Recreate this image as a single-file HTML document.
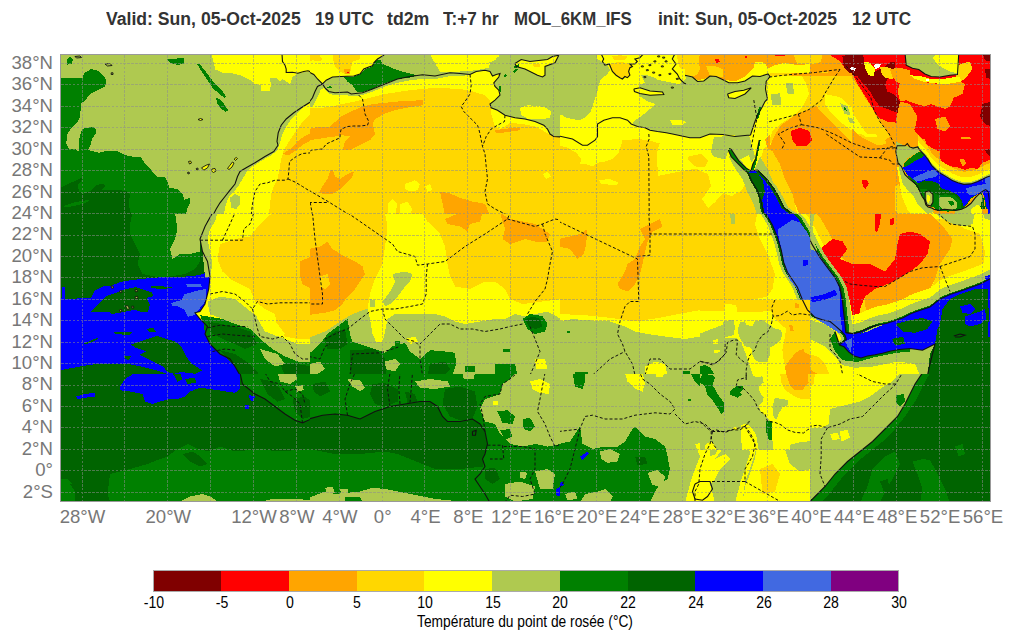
<!DOCTYPE html>
<html><head><meta charset="utf-8"><style>
html,body{margin:0;padding:0;background:#fff;width:1011px;height:641px;overflow:hidden;position:relative;font-family:"Liberation Sans",sans-serif}
.t{position:absolute;font-weight:bold;font-size:18px;color:#333;white-space:nowrap;line-height:20px;top:9px}
.la{position:absolute;font-size:18.6px;color:#777;white-space:nowrap;line-height:20px}
.lat{right:958px;text-align:right}
.lon{top:506.5px;transform:translateX(-50%)}
.cb{position:absolute;font-size:16px;color:#000;white-space:nowrap;line-height:18px;top:594px;transform:translateX(-50%) scaleX(0.88)}
svg{position:absolute;left:0;top:0}
</style></head><body>
<svg width="1011" height="641" viewBox="0 0 1011 641" shape-rendering="crispEdges">
<defs><clipPath id="c0"><rect x="60" y="54" width="250" height="160"/></clipPath><clipPath id="c1"><rect x="310" y="54" width="250" height="160"/></clipPath><clipPath id="c2"><rect x="560" y="54" width="250" height="160"/></clipPath><clipPath id="c3"><rect x="810" y="54" width="181" height="160"/></clipPath><clipPath id="c4"><rect x="60" y="214" width="250" height="160"/></clipPath><clipPath id="c5"><rect x="310" y="214" width="250" height="160"/></clipPath><clipPath id="c6"><rect x="560" y="214" width="250" height="160"/></clipPath><clipPath id="c7"><rect x="810" y="214" width="181" height="160"/></clipPath><clipPath id="c8"><rect x="60" y="374" width="250" height="128"/></clipPath><clipPath id="c9"><rect x="310" y="374" width="250" height="128"/></clipPath><clipPath id="c10"><rect x="560" y="374" width="250" height="128"/></clipPath><clipPath id="c11"><rect x="810" y="374" width="181" height="128"/></clipPath></defs>
<style>.cl{fill:none;stroke:#111;stroke-width:1.1;shape-rendering:auto}.is{stroke:#111;stroke-width:0.9;shape-rendering:auto}.bd{fill:none;stroke:#111;stroke-width:1;stroke-dasharray:3 2;shape-rendering:auto}</style>
<g clip-path="url(#c0)">
<rect x="60" y="54" width="250" height="160" fill="#AFC950"/>
<polygon fill="#FFFF00" points="210.0,52.8 211.5,54.0 213.0,60.5 215.5,69.5 222.0,72.5 232.0,73.2 242.5,76.0 251.5,81.0 254.0,84.2 260.5,85.0 261.0,90.5 270.0,90.5 270.8,85.0 270.0,77.8 277.0,78.5 280.5,81.5 282.2,79.0 287.5,82.2 290.0,85.0 292.5,77.0 297.8,73.2 311.2,71.5 311.2,52.8"/>
<polygon fill="#FFFF00" points="311.2,101.5 303.8,107.0 297.5,112.8 291.2,119.5 286.2,126.5 282.5,134.0 280.0,142.8 277.5,150.2 271.2,155.2 260.0,161.5 252.5,166.5 246.2,172.8 242.5,179.0 238.8,185.2 235.0,190.2 230.0,195.2 227.0,201.5 225.0,207.8 223.8,215.2 311.2,215.2"/>
<polygon fill="#AFC950" points="230.0,197.8 235.0,194.0 240.0,196.5 240.0,204.0 236.2,209.0 231.2,207.8"/>
<polygon fill="#FFD700" points="311.2,114.0 303.8,120.2 297.5,129.0 292.5,136.5 287.5,144.0 283.8,150.2 281.2,159.0 279.5,169.0 277.5,179.0 273.8,186.5 271.2,194.0 270.0,204.0 268.8,215.2 311.2,215.2"/>
<polygon fill="#FFA500" points="282.5,154.0 290.0,149.0 297.5,141.5 303.8,136.5 311.2,133.0 311.2,140.2 303.8,144.0 296.2,150.2 288.8,155.2"/>
<polygon fill="#008000" points="67.0,59.5 70.0,57.0 73.0,59.0 72.0,63.5 67.5,64.5"/>
<polygon fill="#008000" points="167.5,59.5 183.8,57.8 184.2,63.5 177.5,65.0 170.0,63.0"/>
<polygon fill="#008000" points="197.0,64.0 200.0,64.5 207.5,74.0 211.2,79.0 216.2,85.2 222.5,91.5 226.2,96.5 224.5,98.0 218.8,93.5 212.5,87.8 207.5,80.2 202.5,72.8"/>
<polygon fill="#008000" points="216.2,97.8 220.0,99.5 225.0,105.2 228.0,110.2 225.5,112.0 220.0,107.8 217.0,102.8"/>
<polygon fill="#008000" points="58.8,77.8 65.0,77.8 82.5,77.8 84.5,72.8 91.2,69.0 98.8,71.0 105.0,77.0 106.5,82.8 104.5,87.0 97.5,90.2 91.2,93.5 87.0,97.8 84.5,101.5 81.2,102.8 80.0,116.5 77.0,122.8 71.2,127.8 67.5,134.0 66.2,142.8 68.8,149.0 75.0,152.2 58.8,152.2"/>
<polygon fill="#008000" points="78.8,151.5 79.5,137.8 82.0,129.0 88.0,127.8 92.5,126.5 96.2,129.0 95.5,134.0 92.0,139.0 90.5,145.2 87.5,151.0"/>
<polygon fill="#008000" points="58.8,150.2 75.0,149.0 78.0,151.2 84.0,149.8 90.0,150.5 99.0,152.8 108.0,150.5 117.0,151.2 124.5,155.0 135.0,157.0 140.8,157.2 143.8,161.8 149.8,168.5 157.2,176.8 164.8,176.8 167.8,182.0 169.2,188.0 176.8,188.8 182.8,194.0 184.2,200.0 189.5,197.8 190.2,202.8 187.2,209.0 185.8,215.2 58.8,215.2"/>
<polygon fill="#006400" points="58.8,188.8 67.5,184.2 81.0,178.2 82.5,179.0 78.0,185.0 78.8,191.0 82.5,194.0 90.0,191.0 96.0,185.0 103.5,183.5 105.0,186.5 102.0,189.5 114.0,189.5 126.0,191.0 129.8,194.0 129.0,205.8 131.2,215.2 58.8,215.2"/>
<polygon fill="#008000" points="63.0,206.0 72.0,203.0 82.5,200.8 90.0,200.0 85.5,203.0 75.0,205.8 66.0,207.5"/>
<polygon class="is" fill="#FFFF00" points="188.5,161.5 190.5,161.0 191.5,163.0 189.5,164.0"/>
<polygon class="is" fill="#FFFF00" points="201.5,167.8 206.2,165.2 209.5,164.0 207.5,167.8 203.8,170.2"/>
<polygon class="is" fill="#FFFF00" points="212.0,169.0 215.0,168.5 216.0,171.0 213.5,172.5 211.5,171.0"/>
<polygon class="is" fill="#FFFF00" points="227.5,168.5 230.0,165.2 232.5,162.0 234.0,163.0 232.0,167.0 229.0,169.5"/>
<polygon class="is" fill="#FFFF00" points="234.2,159.0 236.2,157.5 237.5,158.5 235.5,160.5"/>
<polygon class="is" fill="#AFC950" points="196.2,168.5 197.8,168.0 198.2,169.5 196.8,170.0"/>
<polygon class="is" fill="#AFC950" points="187.5,172.5 189.0,172.0 189.5,173.5 188.0,174.0"/>
<polygon class="is" fill="#FFFF00" points="198.0,119.5 200.5,118.5 203.0,119.5 200.5,120.5"/>
<polygon class="is" fill="#AFC950" points="105.0,64.0 110.0,63.5 112.0,65.5 107.5,66.0"/>
<polygon class="is" fill="#AFC950" points="111.2,72.8 113.0,72.8 113.0,74.5 111.2,74.5"/>
<polygon class="is" fill="#AFC950" points="75.0,56.5 80.0,56.0 81.5,57.5 76.5,58.0"/>
<polyline class="cl" points="311.2,101.5 301.2,107.8 293.8,112.8 286.2,119.0 281.2,125.2 278.2,132.8 277.0,141.5 278.0,145.2 273.8,151.5 265.0,156.5 255.0,162.8 246.2,167.8 240.0,171.5 237.5,176.5 235.0,184.0 230.0,190.2 225.0,196.5 220.0,202.8 216.2,209.0 213.0,215.2"/>
<polyline class="cl" points="282.0,54.0 282.5,61.5 285.0,65.2 286.2,69.0 286.2,72.5 292.5,72.2 297.8,73.2 303.8,71.5 308.0,70.8 311.2,72.0"/>
<polyline class="bd" points="311.2,152.8 302.5,153.5 296.2,156.5 289.5,161.5 288.8,171.5 288.0,179.0 285.0,180.2 275.0,180.2 267.5,182.8 260.0,184.0 255.0,191.5 252.5,204.0 251.2,215.2"/>
<polyline class="bd" points="288.0,179.0 295.0,182.0 302.5,186.5 311.2,192.0"/>
</g>
<g clip-path="url(#c1)">
<rect x="310" y="54" width="250" height="160" fill="#FFD700"/>
<polygon fill="#FFFF00" points="308.8,52.8 561.2,52.8 561.2,137.8 550.0,134.5 535.0,126.5 522.5,124.0 510.0,122.8 505.0,126.5 500.0,129.0 495.0,126.5 491.2,114.0 490.0,100.2 485.0,95.2 472.5,91.5 460.0,89.0 435.0,87.8 410.0,90.2 385.0,94.0 370.0,97.8 355.0,101.5 342.5,104.0 330.0,107.0 320.0,107.8 308.8,107.8"/>
<polygon fill="#FFD700" points="332.5,52.8 360.0,52.8 360.0,59.0 352.5,61.5 351.2,67.8 350.0,72.8 345.0,74.0 340.0,71.5 335.0,66.5 333.0,59.0"/>
<polygon fill="#FFA500" points="343.8,69.0 350.0,69.5 349.5,74.0 345.0,74.5"/>
<polygon fill="#FF0000" points="347.0,71.5 348.5,71.5 348.5,73.0 347.0,73.0"/>
<polygon fill="#FFD700" points="308.8,52.8 317.5,52.8 322.5,59.0 320.0,61.5 312.5,60.2 308.8,61.5"/>
<polygon fill="#AFC950" points="308.8,73.5 313.8,74.5 317.5,79.0 322.5,84.0 325.0,87.8 321.2,89.0 318.8,94.0 316.2,100.2 312.5,106.5 308.8,107.8"/>
<polygon fill="#AFC950" points="322.5,84.0 326.2,80.2 332.5,77.0 341.2,76.5 353.8,76.0 360.0,74.0 363.8,69.0 368.8,67.0 372.5,65.8 373.8,62.8 377.5,59.0 383.8,55.2 385.0,52.8 430.0,52.8 432.5,59.0 435.0,62.8 450.0,64.0 470.0,65.2 485.0,64.0 495.0,60.2 500.0,54.0 561.2,52.8 561.2,137.8 550.0,134.5 547.5,129.0 543.8,125.2 535.0,121.5 525.0,119.0 515.0,117.8 505.0,115.2 497.5,110.2 491.2,107.8 490.0,104.0 495.0,100.2 500.0,95.2 498.8,90.2 495.0,86.5 493.8,82.8 498.8,77.0 500.0,73.5 496.2,74.5 492.5,76.0 490.0,71.5 485.0,70.2 476.2,71.5 470.0,74.5 460.0,76.5 450.0,76.0 435.0,79.0 422.5,79.0 410.0,80.2 397.5,82.8 385.0,86.5 372.5,91.5 362.5,95.2 351.2,96.5 347.5,95.2 335.0,95.2 328.8,93.5 325.0,89.0"/>
<polygon fill="#FFFF00" points="435.0,52.8 462.5,52.8 465.0,57.8 485.0,60.2 490.0,62.8 488.8,67.8 480.0,69.5 470.0,71.0 460.0,71.5 450.0,72.0 440.0,71.5 436.2,65.2"/>
<polygon fill="#FFFF00" points="477.5,52.8 500.0,52.8 498.8,57.0 485.0,57.0"/>
<polygon fill="#FFFF00" points="520.0,107.8 527.5,105.2 537.5,106.0 546.2,107.8 551.2,111.5 550.0,117.8 540.0,119.5 527.5,118.5 521.2,115.2"/>
<polygon fill="#FFFF00" points="515.0,63.5 521.2,59.5 530.0,61.5 547.5,59.5 552.5,56.5 558.8,55.2 555.0,62.8 545.0,66.5 545.0,75.2 542.5,77.0 537.5,75.2 525.0,69.0 516.2,66.5"/>
<polygon fill="#FFD700" points="532.5,64.0 540.0,64.5 540.0,67.0 533.8,66.5"/>
<polygon fill="#008000" points="343.8,77.0 353.8,76.5 360.0,74.5 365.0,69.0 372.5,66.5 373.8,62.8 378.0,59.5 380.5,59.5 382.5,64.0 397.5,70.2 416.2,75.2 413.8,77.0 397.5,79.0 385.0,83.2 377.5,86.5 370.0,89.5 362.5,92.0 357.5,92.0 355.0,89.0 352.5,85.2 347.5,81.5"/>
<polygon fill="#008000" points="326.2,87.0 331.2,86.0 332.0,87.5 327.0,88.0"/>
<polygon fill="#008000" points="513.8,66.5 518.8,64.0 519.5,66.0 515.0,68.5"/>
<polygon fill="#008000" points="513.0,71.5 516.2,68.5 517.5,69.5 514.5,72.8"/>
<polygon fill="#008000" points="503.8,75.2 506.2,74.0 507.0,76.0 504.5,77.0"/>
<polygon fill="#008000" points="498.8,86.5 501.2,86.0 501.5,91.5 499.5,91.5"/>
<polygon fill="#FFA500" points="308.8,129.0 320.0,126.5 330.0,126.5 341.2,116.5 351.2,111.5 362.5,106.5 372.5,104.0 385.0,102.8 397.5,101.5 410.0,100.8 422.5,100.2 423.0,105.2 410.0,107.0 397.5,109.5 385.0,113.5 376.2,118.5 372.5,122.8 375.0,134.0 370.0,140.2 360.0,145.2 350.0,150.2 342.5,150.2 345.0,141.5 350.0,136.5 342.5,135.2 335.0,136.5 325.0,137.8 317.5,139.0 308.8,140.2"/>
<polygon fill="#FFA500" points="318.8,192.8 322.5,186.5 327.5,179.0 330.0,171.5 332.5,169.5 335.0,176.5 340.0,179.0 347.5,174.0 353.8,171.5 352.5,176.5 345.0,184.0 340.0,189.0 332.5,194.0 325.0,194.0"/>
<polygon fill="#FFA500" points="440.0,191.5 450.0,193.5 460.0,197.8 472.5,201.5 485.0,204.0 490.0,215.2 445.0,215.2"/>
<polygon fill="#FFA500" points="495.0,130.2 507.5,128.5 520.0,127.8 520.0,130.2 507.5,132.0 496.2,133.5"/>
<polygon fill="#FFFF00" points="405.0,184.0 415.0,180.2 420.0,184.0 417.5,190.2 410.0,191.5 405.0,189.0"/>
<polygon fill="#FFFF00" points="387.5,204.0 392.5,199.0 397.5,204.0 395.0,215.2 388.8,215.2"/>
<polygon fill="#FFFF00" points="400.0,204.0 407.5,201.5 412.5,209.0 410.0,215.2 400.0,215.2"/>
<polygon fill="#FFFF00" points="425.0,186.5 430.0,184.0 432.5,190.2 427.5,191.5"/>
<polygon fill="#FFFF00" points="542.5,174.0 547.5,171.5 551.2,176.5 546.2,179.0"/>
<polyline class="cl" points="308.8,72.0 313.8,74.5 317.5,79.0 322.5,84.0 326.2,80.2 332.5,77.0 341.2,76.5 353.8,76.0 360.0,74.0 363.8,69.0 368.8,67.0 372.5,65.8 373.8,62.8 377.5,59.0 383.8,55.2 385.0,52.8"/>
<polyline class="cl" points="308.8,102.8 312.5,97.8 315.0,91.5 317.5,86.5 322.5,84.0 325.0,87.8 328.8,91.5 335.0,92.8 347.5,92.0 351.2,94.0 362.5,92.8 372.5,89.0 385.0,84.0 397.5,79.0 410.0,76.5 422.5,74.8 435.0,76.0 450.0,72.8 460.0,73.5 470.0,74.5 476.2,71.5 485.0,70.2 490.0,71.5 492.5,76.0 496.2,74.5 500.0,73.5 498.8,77.0 493.8,82.8 495.0,86.5 498.8,90.2 500.0,95.2 495.0,100.2 490.0,104.0 491.2,107.8 497.5,110.2 505.0,115.2 515.0,117.8 525.0,119.0 535.0,121.5 543.8,125.2 547.5,129.0 550.0,134.0 553.8,136.5 561.2,137.0"/>
<polyline class="cl" points="515.0,63.5 521.2,59.5 530.0,61.5 547.5,59.5 552.5,56.5 558.8,55.2"/>
<polyline class="cl" points="558.8,55.2 555.0,62.8 545.0,66.5 545.0,75.2 542.5,77.0 537.5,75.2 525.0,69.0 516.2,66.5 515.0,63.5"/>
<polyline class="bd" points="358.8,95.2 362.5,99.0 363.8,106.5 365.0,114.0 368.8,121.5 367.5,125.2 360.0,126.0 353.8,126.0 347.5,126.5 341.2,129.0 340.0,134.0 340.0,137.8 326.2,144.0 322.5,149.0 311.2,150.2 308.8,152.8"/>
<polyline class="bd" points="470.0,74.5 471.2,85.2 470.0,94.0 465.0,101.5 461.2,106.5 463.8,111.5 471.2,119.0 477.5,125.2 478.8,129.0 480.0,134.0 482.5,146.5 485.0,154.0 486.2,166.5 487.5,179.0 485.0,191.5 487.5,204.0 495.0,209.0 507.5,215.2"/>
<polyline class="bd" points="505.0,115.2 504.5,121.5 497.5,125.2 491.2,129.0 486.2,136.5 482.5,146.5"/>
<polyline class="bd" points="308.8,190.2 328.8,202.0 350.0,215.2"/>
<polyline class="bd" points="308.8,202.5 328.8,202.5"/>
<polyline class="bd" points="310.2,202.5 312.5,215.2"/>
</g>
<g clip-path="url(#c2)">
<rect x="560" y="54" width="250" height="160" fill="#AFC950"/>
<polygon fill="#FFFF00" points="558.8,52.8 811.2,52.8 811.2,215.2 558.8,215.2"/>
<polygon fill="#AFC950" points="558.8,52.8 596.2,52.8 597.5,59.0 601.2,61.5 607.5,65.2 610.0,70.2 607.5,74.0 601.2,79.0 598.8,84.0 597.5,91.5 593.8,101.5 592.5,106.5 590.0,112.8 585.0,117.8 578.8,120.2 572.5,119.0 566.2,117.8 562.5,115.2 558.8,114.0"/>
<polygon fill="#FFD700" points="609.3,64.0 612.4,71.5 616.1,75.2 619.9,77.7 622.4,79.0 624.9,76.5 627.4,77.7 629.9,75.2 628.6,71.5 629.9,67.7 632.4,66.5 629.9,64.0 624.9,62.7 619.9,61.5 614.9,62.7"/>
<polygon fill="#FFD700" points="612.4,56.5 619.9,55.2 627.4,56.5 624.9,59.6 618.6,60.2 613.6,59.6"/>
<polygon fill="#FFD700" points="676.6,54.0 686.0,54.0 686.0,69.0 679.8,67.7 677.9,61.5"/>
<polygon fill="#FFD700" points="677.5,52.8 686.2,52.8 686.2,69.0 681.2,69.0 678.8,61.5"/>
<polygon fill="#FFA500" points="685.0,52.8 811.2,52.8 811.2,64.0 797.5,65.2 785.0,62.8 775.0,65.2 767.5,69.0 765.0,64.0 757.5,62.8 752.5,69.0 745.0,76.5 735.0,81.5 722.5,79.5 716.2,76.5 710.0,76.0 703.8,79.0 697.5,80.2 692.5,76.5 685.0,75.2"/>
<polygon fill="#FFD700" points="685.0,52.8 700.0,52.8 698.8,61.5 700.0,69.0 697.5,74.0 692.5,76.5 685.0,75.2"/>
<polygon fill="#FFD700" points="706.2,66.5 715.0,66.0 722.5,69.0 722.5,76.5 716.2,76.5 710.0,76.0"/>
<polygon fill="#FFFF00" points="755.0,61.5 765.0,62.8 767.5,67.8 767.5,74.5 760.0,76.5 752.5,76.0"/>
<polygon fill="#FFD700" points="792.5,52.8 811.2,52.8 811.2,64.0 797.5,64.0"/>
<polygon fill="#FF0000" points="715.0,59.0 718.8,58.5 720.0,62.0 716.2,62.8"/>
<polygon fill="#FF0000" points="772.5,52.8 786.2,52.8 785.0,56.0 775.0,56.0"/>
<polygon fill="#FF0000" points="745.0,56.0 747.0,56.0 747.0,57.5 745.0,57.5"/>
<polygon fill="#AFC950" points="640.0,84.0 647.5,82.8 653.8,79.0 660.0,80.2 666.2,81.5 672.5,82.8 678.8,84.0 686.2,79.0 685.0,75.2 692.5,77.0 697.5,81.5 703.8,81.0 710.0,76.0 716.2,76.5 722.5,79.5 728.8,82.8 737.5,82.8 745.0,81.0 752.5,76.0 760.0,76.5 766.2,74.5 768.0,74.0 770.0,76.5 766.2,81.5 765.5,89.0 767.5,99.0 765.0,101.5 762.5,106.5 757.5,115.2 755.0,121.5 752.5,129.0 750.5,135.2 722.5,134.5 710.0,134.0 700.0,137.8 690.0,137.8 672.5,134.0 666.2,132.8 657.5,131.5 650.0,130.2 645.0,127.8 637.5,126.5 632.5,124.0 635.0,120.2 642.5,115.2 650.0,109.0 655.0,104.0 647.5,101.5 640.0,96.5 637.5,90.2"/>
<polygon fill="#AFC950" points="641.2,75.2 647.5,75.2 657.5,79.0 655.0,83.5 645.0,83.5"/>
<polygon fill="#FFFF00" points="633.8,89.0 640.0,87.8 650.0,91.0 662.5,92.0 663.8,94.5 650.0,95.2 640.0,93.5 634.5,91.5"/>
<polygon fill="#FFFF00" points="727.5,94.0 735.0,91.5 743.8,90.2 751.2,87.8 745.0,94.0 735.0,98.5 728.8,97.8"/>
<polygon fill="#FFFF00" points="615.0,121.5 622.5,120.2 623.8,123.5 617.5,124.5"/>
<polygon fill="#FFFF00" points="670.0,120.2 680.0,119.5 686.2,122.0 682.5,125.2 672.5,125.2"/>
<polygon fill="#FFFF00" points="768.0,74.0 811.2,71.5 811.2,136.5 785.0,136.5 767.5,134.0 767.5,99.0 765.5,89.0 766.2,81.5 770.0,76.5"/>
<polygon fill="#FFD700" points="785.0,91.5 797.5,89.0 811.2,86.5 811.2,116.5 800.0,114.0 790.0,111.5 785.0,104.0"/>
<polygon fill="#FFA500" points="780.0,111.5 795.0,106.5 811.2,101.5 811.2,136.5 785.0,136.5 777.5,131.5 780.0,121.5"/>
<polygon fill="#FF0000" points="797.5,126.5 811.2,124.0 811.2,136.5 800.0,136.5 795.0,131.5"/>
<polygon fill="#AFC950" points="772.5,96.5 777.5,96.0 780.0,100.2 773.8,101.5"/>
<polygon fill="#AFC950" points="773.8,110.2 780.0,110.2 782.5,116.5 775.0,117.8"/>
<polygon fill="#008000" points="756.2,117.8 758.8,107.8 761.2,106.5 760.0,114.0 758.0,119.5"/>
<polygon fill="#FFD700" points="558.8,145.2 567.5,147.8 576.2,152.8 581.2,159.0 580.0,164.0 585.0,164.0 592.5,166.5 597.5,162.8 605.0,161.5 612.5,159.0 618.8,152.8 622.5,140.2 639.0,139.0 649.2,140.5 659.5,143.5 656.8,153.8 658.0,175.8 681.5,171.2 696.2,168.5 708.0,174.2 711.0,186.0 702.0,199.2 708.0,208.0 715.2,202.0 722.8,193.2 731.5,196.2 741.8,190.2 744.8,184.5 750.0,190.2 758.8,215.2 558.8,215.2"/>
<polygon fill="#FFD700" points="687.5,156.8 700.8,153.8 708.0,161.0 705.0,167.0 696.2,167.0 689.0,161.0"/>
<polygon fill="#FFFF00" points="598.8,180.2 610.0,179.0 618.8,182.8 616.2,185.2 601.2,184.0"/>
<polygon fill="#AFC950" points="713.8,137.5 725.5,136.0 749.0,134.8 755.0,156.8 747.5,168.5 740.2,165.5 734.2,161.0 730.0,153.8 728.5,149.2 725.5,159.5 713.8,156.8 711.0,152.2"/>
<polygon fill="#FFFF00" points="740.2,159.5 749.0,155.2 752.0,164.0 747.5,168.5"/>
<polygon fill="#AFC950" points="731.5,152.8 735.8,158.0 741.8,167.0 749.0,171.2 747.5,175.8 752.5,186.5 757.5,199.0 762.5,215.2 757.5,215.2 752.5,201.5 746.2,189.0 742.5,179.0 737.5,171.5 732.5,164.0 729.0,156.5"/>
<polygon fill="#FFA500" points="771.2,134.0 811.2,134.0 811.2,215.2 800.0,215.2 795.0,204.0 787.5,194.0 780.0,181.5 775.0,171.5 770.0,159.0 767.5,149.0 765.0,139.0"/>
<polygon fill="#FFD700" points="765.0,146.5 772.5,151.5 780.0,164.0 785.0,179.0 792.5,194.0 797.5,215.2 785.0,215.2 775.0,194.0 765.0,171.5 761.2,156.5"/>
<polygon fill="#FFFF00" points="761.2,161.5 767.5,171.5 775.0,189.0 780.0,204.0 785.0,215.2 775.0,215.2 765.0,194.0 757.5,174.0"/>
<polygon fill="#FF0000" points="791.2,134.0 811.2,134.0 811.2,146.5 802.5,145.2 795.0,140.2"/>
<polygon fill="#AFC950" points="760.0,156.5 767.5,169.0 775.0,186.5 780.0,204.0 786.2,215.2 775.0,215.2 767.5,199.0 760.0,184.0 753.8,171.5"/>
<polygon fill="#AFC950" points="755.4,170.9 761.9,170.0 769.4,177.4 776.9,186.8 782.5,196.2 788.1,207.4 795.6,213.0 803.1,216.8 806.9,224.2 810.6,233.6 816.2,244.8 821.8,254.2 825.6,260.0 829.3,267.3 826.0,267.3 822.2,260.0 818.5,254.2 812.8,244.8 807.2,233.6 803.5,224.2 799.7,216.8 792.3,213.0 784.8,207.4 779.2,196.2 773.5,186.8 766.1,177.4 758.6,170.0 752.0,170.9"/>
<polygon fill="#AFC950" points="747.0,172.8 750.7,181.2 756.3,190.5 760.1,201.8 761.9,211.1 765.7,218.6 771.3,226.1 775.0,233.6 778.8,244.8 780.7,252.3 782.5,260.0 784.4,267.3 782.1,267.3 780.3,260.0 778.4,252.3 776.5,244.8 772.8,233.6 769.0,226.1 763.4,218.6 759.7,211.1 757.8,201.8 754.1,190.5 748.5,181.2 744.7,172.8"/>
<polygon fill="#006400" points="747.0,172.8 750.7,181.2 756.3,190.5 760.1,201.8 761.9,211.1 765.7,218.6 771.3,226.1 775.0,233.6 778.8,244.8 780.7,252.3 782.5,260.0 784.4,267.3 826.0,267.3 822.2,260.0 818.5,254.2 812.8,244.8 807.2,233.6 803.5,224.2 799.7,216.8 792.3,213.0 784.8,207.4 779.2,196.2 773.5,186.8 766.1,177.4 758.6,170.0 752.0,170.9"/>
<polygon fill="#0000FF" points="748.1,172.8 751.8,181.2 757.4,190.5 761.2,201.8 763.1,211.1 766.8,218.6 772.4,226.1 776.2,233.6 779.9,244.8 781.8,252.3 783.6,260.0 785.5,267.3 824.8,267.3 821.1,260.0 817.3,254.2 811.7,244.8 806.1,233.6 802.4,224.2 798.6,216.8 791.1,213.0 783.6,207.4 778.0,196.2 772.4,186.8 764.9,177.4 757.4,170.0 750.9,170.9"/>
<polygon fill="#006400" points="748.1,172.8 757.4,172.8 763.1,181.2 764.9,192.4 762.1,199.9 764.0,211.1 766.8,220.5 772.4,228.0 776.2,233.6 773.4,233.6 767.7,226.1 763.1,218.6 760.2,207.4 758.4,196.2 753.7,184.9 750.0,177.4"/>
<polygon fill="#006400" points="757.4,170.0 764.9,177.4 772.4,186.8 778.0,196.2 783.6,207.4 791.1,213.0 798.6,216.8 802.4,224.2 806.1,233.6 803.5,233.6 799.7,224.2 796.0,216.8 788.5,213.0 781.0,207.4 775.4,196.2 769.8,186.8 762.3,177.4 754.8,170.0"/>
<polygon fill="#4169E1" points="791.1,228.0 798.6,222.4 806.1,233.6 811.7,244.8 817.3,254.2 819.2,260.0 791.1,260.0 787.4,252.3 791.1,244.8 789.3,237.3"/>
<polygon fill="#008000" points="728.4,150.3 731.2,156.8 738.7,164.3 744.3,170.0 748.1,172.8 750.9,170.9 746.2,168.1 738.7,160.6 731.2,149.4 729.4,148.4"/>
<polygon fill="#008000" points="750.9,170.9 752.8,164.3 755.6,158.7 757.4,149.4 759.3,140.0 760.8,140.0 758.4,151.2 756.5,160.6 754.6,168.1 753.7,170.9"/>
<polygon fill="#FFFF00" points="769.8,73.1 852.3,73.1 852.3,150.0 769.8,150.0"/>
<polygon fill="#FFD700" points="800.0,73.1 852.3,73.1 852.3,150.0 772.3,150.0 769.8,140.1 772.3,130.9 781.5,123.2 793.8,115.5 803.0,106.3 809.2,94.0 806.1,83.2"/>
<polygon fill="#FFA500" points="769.8,146.3 775.4,134.0 781.5,124.7 796.9,114.0 809.2,109.4 821.5,103.2 827.6,109.4 840.0,118.6 852.3,127.8 852.3,150.0 769.8,150.0"/>
<polygon fill="#FFD700" points="815.3,90.9 833.8,84.8 852.3,84.8 852.3,143.2 840.0,130.9 827.6,118.6 818.4,109.4 815.3,100.1"/>
<polygon fill="#FFFF00" points="824.6,94.0 840.0,97.1 852.3,107.8 852.3,130.9 840.0,121.7 830.7,112.4 824.6,103.2"/>
<polygon fill="#AFC950" points="840.0,103.2 847.6,106.3 850.7,115.5 844.6,114.0"/>
<polygon fill="#008000" points="843.6,106.9 846.1,107.8 846.7,110.9 844.3,110.0"/>
<polygon fill="#AFC950" points="847.6,117.1 852.3,118.6 852.3,123.2 849.2,122.3"/>
<polygon fill="#AFC950" points="770.7,94.0 780.0,93.4 781.5,104.8 772.3,104.8"/>
<polygon fill="#AFC950" points="786.1,83.2 793.2,83.2 793.8,94.0 787.0,93.4"/>
<polygon fill="#FF0000" points="790.7,130.9 800.0,127.8 809.2,130.9 812.3,140.1 806.1,146.3 796.9,146.3 792.3,140.1"/>
<polygon fill="#FFA500" points="769.8,73.1 852.3,73.1 852.3,75.5 769.8,75.5"/>
<polygon fill="#FFD700" points="769.8,73.1 790.7,73.1 790.7,75.5 769.8,75.5"/>
<polygon class="is" fill="#FFFF00" points="641.2,66.0 643.2,65.8 643.5,66.8 641.5,67.0"/>
<polygon class="is" fill="#FFFF00" points="646.2,69.8 648.2,69.5 648.5,70.5 646.5,70.8"/>
<polygon class="is" fill="#FFFF00" points="652.5,72.2 654.5,72.0 654.8,73.0 652.8,73.2"/>
<polygon class="is" fill="#FFFF00" points="658.8,74.8 660.8,74.5 661.0,75.5 659.0,75.8"/>
<polygon class="is" fill="#FFFF00" points="643.8,76.5 645.8,76.5 646.0,77.5 644.0,77.8"/>
<polygon class="is" fill="#FFFF00" points="661.2,66.0 663.2,65.8 663.5,66.8 661.5,67.0"/>
<polygon class="is" fill="#FFFF00" points="668.8,73.5 670.8,73.2 671.0,74.2 669.0,74.5"/>
<polygon class="is" fill="#FFFF00" points="671.2,87.2 673.2,87.0 673.5,88.0 671.5,88.2"/>
<polygon class="is" fill="#FFFF00" points="653.8,61.0 655.8,60.8 656.0,61.8 654.0,62.0"/>
<polygon class="is" fill="#FFFF00" points="648.8,64.8 650.8,64.5 651.0,65.5 649.0,65.8"/>
<polygon class="is" fill="#FFFF00" points="665.0,61.0 667.0,60.8 667.2,61.8 665.2,62.0"/>
<polygon class="is" fill="#FFFF00" points="657.5,56.0 659.5,55.8 659.8,56.8 657.8,57.0"/>
<polygon class="is" fill="#FFFF00" points="662.5,57.2 664.5,57.0 664.8,58.0 662.8,58.2"/>
<polygon class="is" fill="#FFFF00" points="676.2,78.5 678.2,78.2 678.5,79.2 676.5,79.5"/>
<polyline class="cl" points="729.4,148.4 731.2,149.4 738.7,160.6 746.2,168.1 750.9,170.9 750.9,170.9 757.4,170.0 764.9,177.4 772.4,186.8 778.0,196.2 783.6,207.4 791.1,213.0 798.6,216.8 802.4,224.2 806.1,233.6 811.7,244.8 817.3,254.2 821.1,260.0 824.8,267.3"/>
<polyline class="cl" points="728.4,150.3 731.2,156.8 738.7,164.3 744.3,170.0 748.1,172.8 748.1,172.8 751.8,181.2 757.4,190.5 761.2,201.8 763.1,211.1 766.8,218.6 772.4,226.1 776.2,233.6 779.9,244.8 781.8,252.3 783.6,260.0 785.5,267.3"/>
<polyline class="cl" points="750.9,170.9 752.8,164.3 755.6,158.7 757.4,149.4 759.3,140.0"/>
<polyline class="cl" points="558.8,136.0 572.5,139.0 582.5,145.2 587.5,145.2 595.0,140.2 597.5,136.5 597.5,124.0 603.8,120.2 612.5,117.8 620.0,117.8 627.5,120.2 631.2,124.0 637.5,126.5 645.0,127.8 650.0,130.2 657.5,131.5 666.2,132.8 672.5,134.0 690.0,137.8 700.0,137.8 710.0,134.0 722.5,134.5 735.0,136.5 747.5,135.2 750.5,135.2"/>
<polyline class="cl" points="685.0,75.2 692.5,77.0 697.5,81.5 703.8,81.0 710.0,76.0 716.2,76.5 722.5,79.5 728.8,82.8 737.5,82.8 745.0,81.0 752.5,76.0 760.0,76.5 766.2,74.5 768.0,74.0 770.0,76.5 766.2,81.5 765.5,89.0 767.5,99.0 765.0,101.5 762.5,106.5 757.5,115.2 755.0,121.5 752.5,129.0 750.5,135.2"/>
<polyline class="cl" points="601.2,54.0 603.7,59.0 602.4,61.5 604.9,65.2 609.3,64.0 612.4,71.5 616.1,75.2 619.9,77.7 622.4,79.0 624.9,76.5 627.4,77.7 629.9,75.2 628.6,71.5 629.9,67.7 632.4,66.5 629.9,64.0 634.9,64.0 637.3,61.5 634.9,59.0 639.8,57.7 642.3,55.2 643.6,54.0"/>
<polyline class="cl" points="674.8,54.0 672.3,59.0 676.0,64.0 672.3,69.0 677.3,74.0 679.8,79.0 683.5,82.7 686.0,83.9"/>
<polyline class="cl" points="633.8,89.0 640.0,87.8 650.0,91.0 662.5,92.0 663.8,94.5 650.0,95.2 640.0,93.5 634.5,91.5 633.8,89.0"/>
<polyline class="cl" points="727.5,94.0 735.0,91.5 743.8,90.2 751.2,87.8 745.0,94.0 735.0,98.5 728.8,97.8 727.5,94.0"/>
<polyline class="bd" points="769.2,77.1 781.5,75.5 796.9,74.0 815.3,72.5 827.6,70.9 840.0,69.4"/>
<polyline class="bd" points="840.0,69.4 833.8,78.6 824.6,94.0 821.5,100.1 809.2,109.4 798.4,114.0"/>
<polyline class="bd" points="769.2,121.7 781.5,118.6 798.4,114.0"/>
<polyline class="bd" points="798.4,114.0 801.5,124.7 790.7,127.8 778.4,134.0 784.6,143.2 781.5,150.0"/>
<polyline class="bd" points="801.5,124.7 818.4,127.8 833.8,134.0 852.3,143.2 870.7,149.4 895.3,147.8"/>
<polyline class="bd" points="846.1,66.3 852.3,72.5 861.5,84.8 870.7,97.1 873.8,109.4 879.9,121.7 889.2,134.0 895.3,146.3"/>
<polyline class="bd" points="753.8,100.1 756.9,118.6 753.8,134.0 750.7,150.0"/>
<polyline class="bd" points="648.8,134.0 649.2,139.0 646.2,146.5 648.8,156.5 649.2,215.2"/>
</g>
<g clip-path="url(#c3)">
<rect x="810" y="54" width="181" height="160" fill="#FFA500"/>
<polygon fill="#FFA500" points="808.8,52.8 1061.2,52.8 1061.2,215.2 808.8,215.2"/>
<polygon fill="#FFD700" points="808.8,76.5 817.5,72.8 826.2,71.5 832.5,75.2 840.0,76.5 847.5,79.0 853.0,79.0 860.0,89.0 865.0,97.8 871.2,106.5 875.0,114.0 880.0,121.5 885.0,129.0 890.0,136.5 885.0,140.2 872.5,140.2 860.0,129.0 847.5,126.5 835.0,134.0 832.5,129.0 830.0,119.0 827.5,109.0 822.5,105.2 817.5,104.0 808.8,104.0"/>
<polygon fill="#FFD700" points="808.8,52.8 822.5,52.8 821.2,61.5 815.0,64.0 808.8,64.0"/>
<polygon fill="#FFFF00" points="832.5,101.5 842.5,101.5 850.0,107.8 855.0,116.5 860.0,124.0 865.0,131.5 867.5,134.0 857.5,134.0 850.0,126.5 842.5,119.0 835.0,109.0"/>
<polygon fill="#AFC950" points="842.5,101.5 847.5,105.2 851.2,111.5 847.5,112.8 843.8,106.5"/>
<polygon fill="#AFC950" points="847.5,116.5 852.5,119.0 855.0,122.8 851.2,122.8"/>
<polygon fill="#008000" points="846.2,106.5 848.0,107.8 847.5,109.5 845.8,108.5"/>
<polygon fill="#FFD700" points="857.5,134.0 877.5,134.0 885.0,139.0 886.2,144.0 877.5,145.2 870.0,141.5 862.5,137.8"/>
<polygon fill="#FFFF00" points="861.2,134.0 876.2,134.0 877.5,137.0 866.2,137.0"/>
<polygon fill="#FF0000" points="826.2,52.8 832.5,56.5 840.0,61.5 843.8,66.5 850.0,71.5 853.0,75.2 857.5,84.0 864.5,95.2 870.0,104.0 873.8,110.8 878.8,117.8 887.5,121.5 897.5,122.8 910.0,125.2 917.5,134.0 925.0,141.5 935.0,149.0 940.0,156.5 943.8,164.0 952.5,167.8 962.5,170.2 975.0,170.2 981.2,166.5 991.2,165.2 991.2,52.8"/>
<polygon fill="#800000" points="842.5,56.5 852.5,52.8 862.5,52.8 865.0,64.0 868.8,70.2 875.0,71.5 880.0,69.0 885.0,66.5 891.2,61.5 895.0,61.5 895.0,67.8 890.0,72.8 887.5,79.0 885.0,85.2 887.5,91.5 895.0,95.2 900.0,101.5 905.0,107.8 902.5,114.0 897.5,112.8 887.5,109.0 880.0,106.5 876.2,101.5 872.5,96.5 870.0,91.5 866.2,86.5 862.5,82.8 857.5,76.5 850.0,74.0 845.0,69.0 842.5,61.5"/>
<polygon fill="#FFFF00" points="863.8,61.5 870.0,62.8 875.0,69.0 873.8,76.5 868.8,75.2 865.5,69.0"/>
<polygon fill="#FFD700" points="880.0,66.5 890.0,67.8 896.2,74.0 892.5,79.0 885.0,77.8 881.2,72.8"/>
<polygon fill="#FFA500" points="890.0,69.0 900.0,67.8 910.0,70.2 910.0,86.5 902.5,85.2 896.2,81.5 892.5,76.5"/>
<polygon fill="#FFA500" points="900.0,71.5 912.5,75.2 918.8,77.8 927.5,82.8 941.2,84.0 960.0,81.5 965.0,84.0 962.5,94.0 953.8,97.8 950.0,106.5 945.0,109.0 937.5,106.5 931.2,104.0 925.0,106.5 912.5,102.8 906.2,100.2 900.0,101.5 897.5,91.5 900.0,81.5"/>
<polygon fill="#FFA500" points="900.0,101.5 910.0,104.0 917.5,116.5 915.0,129.0 905.0,134.0 897.5,129.0 896.2,119.0"/>
<polygon fill="#FFA500" points="935.0,119.0 945.0,116.5 950.0,126.5 945.0,131.5 937.5,129.0"/>
<polygon fill="#FFA500" points="960.0,136.5 970.0,136.5 972.5,144.0 965.0,146.5"/>
<polygon fill="#FFD700" points="960.0,64.0 970.0,61.5 972.5,69.0 965.0,79.0 960.0,81.5 955.0,79.0"/>
<polygon fill="#800000" points="982.5,52.8 991.2,52.8 991.2,61.5 985.0,60.2"/>
<polygon fill="#800000" points="985.0,69.0 991.2,69.0 991.2,79.0 986.2,77.8"/>
<polygon fill="#800000" points="982.5,104.0 991.2,101.5 991.2,126.5 985.0,124.0 980.0,116.5"/>
<polygon fill="#800000" points="985.0,149.0 991.2,149.0 991.2,161.5 986.2,159.0"/>
<polygon fill="#FF0000" points="862.0,180.2 867.0,180.2 868.8,184.0 865.5,189.0 863.0,187.0"/>
<polygon fill="#FF0000" points="808.8,136.5 812.0,137.8 812.5,145.2 808.8,146.5"/>
<polygon fill="#AFC950" points="905.0,52.8 906.2,65.2 912.5,68.2 918.8,69.5 925.0,74.0 931.2,76.5 940.0,77.0 950.0,75.2 957.5,74.5 958.8,52.8"/>
<polygon fill="#FFFF00" points="932.5,57.8 937.5,52.8 958.8,52.8 958.8,74.0 950.0,71.5 942.5,67.8 937.5,64.0"/>
<polygon fill="#FFFF00" points="910.0,75.2 922.5,76.5 930.0,79.0 940.0,79.5 950.0,77.8 960.0,76.5 961.2,81.5 950.0,83.5 937.5,83.5 925.0,82.0 915.0,79.0"/>
<polygon fill="#FFA500" points="913.1,138.8 991.6,138.8 991.6,176.9 913.1,176.9"/>
<polygon fill="#FF0000" points="924.6,138.8 926.9,144.6 933.9,149.2 939.6,151.5 940.8,160.8 945.4,164.2 952.3,166.5 959.3,167.7 965.0,170.0 970.8,167.7 977.7,168.9 982.3,163.1 987.0,160.8 991.6,159.6 991.6,138.8"/>
<polygon fill="#FFA500" points="959.3,159.6 963.9,158.5 966.2,163.1 962.7,166.5"/>
<polygon fill="#800000" points="984.7,150.4 989.3,149.2 991.6,150.4 991.6,157.3 988.1,155.0"/>
<polygon fill="#FFD700" points="917.7,134.2 920.0,137.7 924.6,142.3 928.1,146.9 931.6,152.7 936.2,157.3 940.8,160.8 946.6,164.2 952.3,167.7 958.1,170.0 963.9,171.7 970.8,171.2 977.7,168.9 982.3,166.5 987.0,164.2 991.6,162.9 991.6,169.8 987.0,171.2 982.3,173.5 977.7,175.8 970.8,178.1 963.9,178.7 958.1,176.9 952.3,174.6 946.6,171.2 940.8,167.7 936.2,164.2 931.6,159.6 928.1,153.9 924.6,149.2 920.0,144.6 917.7,141.2"/>
<polygon fill="#FFFF00" points="917.7,140.0 920.0,143.5 924.6,148.1 928.1,152.7 931.6,158.5 936.2,163.1 940.8,166.5 946.6,170.0 952.3,173.5 958.1,175.8 963.9,177.5 970.8,176.9 977.7,174.6 982.3,172.3 987.0,170.0 991.6,168.6 991.6,173.5 987.0,174.9 982.3,177.2 977.7,179.5 970.8,181.8 963.9,182.4 958.1,180.6 952.3,178.3 946.6,174.9 940.8,171.4 936.2,167.9 931.6,163.3 928.1,157.5 924.6,152.9 920.0,148.3 917.7,144.8"/>
<polygon fill="#AFC950" points="917.7,144.8 920.0,148.3 924.6,152.9 928.1,157.5 931.6,163.3 936.2,167.9 940.8,171.4 946.6,174.9 952.3,178.3 958.1,180.6 963.9,182.4 970.8,181.8 977.7,179.5 982.3,177.2 987.0,174.9 991.6,173.5 991.6,175.8 987.0,177.2 982.3,179.5 977.7,181.8 970.8,184.1 963.9,184.7 958.1,182.9 952.3,180.6 946.6,177.2 940.8,173.7 936.2,170.2 931.6,165.6 928.1,159.9 924.6,155.2 920.0,150.6 917.7,147.2"/>
<polygon fill="#FFA500" points="883.1,157.3 901.5,157.3 901.5,220.8 883.1,220.8"/>
<polygon fill="#FFFF00" points="896.9,166.5 901.5,166.5 905.0,174.6 909.6,179.2 914.2,182.7 917.7,186.2 920.0,191.9 922.3,196.6 924.6,200.0 925.8,204.6 928.1,207.0 931.6,208.1 933.9,213.9 913.1,216.2 907.3,209.3 901.5,195.4 899.2,180.4"/>
<polygon fill="#FFD700" points="894.6,186.2 899.2,183.9 901.5,195.4 907.3,209.3 913.1,216.2 901.5,218.5 894.6,209.3"/>
<polygon fill="#AFC950" points="895.8,141.2 905.0,145.8 909.6,146.9 917.7,146.9 920.0,150.4 917.7,152.7 913.1,155.0 907.3,158.5 903.9,163.1 902.7,166.5 905.0,174.6 909.6,179.2 914.2,182.7 917.7,186.2 920.0,191.9 922.3,196.6 924.6,200.0 925.8,204.6 928.1,207.0 931.6,208.1 933.9,211.6 928.1,213.9 922.3,209.3 916.5,202.3 913.1,195.4 907.3,189.6 902.7,183.9 900.4,174.6 898.1,163.1 895.8,151.5"/>
<polygon fill="#008000" points="903.9,163.1 910.8,157.3 917.7,152.7 921.2,151.5 924.6,155.0 928.1,159.6 931.6,165.4 936.2,170.0 940.8,173.5 946.6,176.9 952.3,180.4 958.1,182.7 963.9,184.4 970.8,183.9 977.7,181.6 982.3,179.2 987.0,176.9 991.6,175.6 991.6,209.3 985.8,209.3 983.5,193.1 977.7,194.3 970.8,198.9 966.2,205.8 961.6,209.3 954.6,209.3 943.1,208.1 936.2,208.1 928.1,205.8 924.6,200.0 920.0,191.9 915.4,185.0 908.5,176.9 903.9,170.0"/>
<polygon fill="#0000FF" points="902.7,167.7 908.5,165.4 915.4,160.8 922.3,157.3 924.6,155.0 928.1,159.6 931.6,165.4 936.2,170.0 940.8,173.5 946.6,176.9 952.3,180.4 958.1,182.7 963.9,184.4 970.8,183.9 977.7,181.6 982.3,179.2 987.0,176.9 991.6,175.6 991.6,209.3 987.0,209.3 984.7,197.7 982.3,193.1 977.7,194.3 970.8,197.7 966.2,204.6 963.9,207.0 961.6,200.0 957.0,194.3 950.0,190.8 941.9,188.5 938.5,183.9 933.9,181.6 924.6,180.4 918.9,183.9 913.1,179.2 907.3,174.6"/>
<polygon fill="#4169E1" points="913.1,178.1 920.0,174.6 928.1,171.2 933.9,170.0 938.5,173.5 936.2,176.9 929.2,178.1 922.3,180.4 916.5,181.6"/>
<polygon fill="#4169E1" points="966.2,188.5 973.1,186.2 980.0,185.0 985.8,183.9 989.3,186.2 987.0,190.8 982.3,191.9 976.6,194.3 970.8,195.4 967.3,193.1"/>
<polygon fill="#4169E1" points="984.7,178.1 991.6,175.8 991.6,191.9 988.1,190.8 985.8,185.0"/>
<polygon fill="#006400" points="917.7,183.9 924.6,180.4 933.9,181.6 938.5,183.9 941.9,188.5 950.0,190.8 957.0,194.3 961.6,200.0 963.9,207.0 959.3,209.3 954.6,204.6 950.0,200.0 943.1,196.6 936.2,194.3 930.4,190.8 924.6,188.5 920.0,189.6"/>
<polygon fill="#008000" points="936.2,195.4 945.4,194.3 954.6,195.4 961.6,202.3 960.4,210.4 947.7,211.6 936.2,210.4 933.9,204.6"/>
<polygon fill="#AFC950" points="938.5,197.7 945.4,196.6 952.3,197.7 957.0,202.3 957.0,208.1 950.0,210.4 943.1,209.3 938.5,204.6"/>
<polygon fill="#008000" points="947.7,201.2 952.3,200.6 954.6,204.1 951.2,205.8"/>
<polygon fill="#AFC950" points="925.2,191.9 929.2,190.8 932.9,194.3 932.9,202.3 930.6,206.0 926.9,204.9 925.2,198.9"/>
<polygon fill="#FFFF00" points="926.7,195.4 929.2,194.3 930.4,198.9 928.7,202.9 927.2,201.2"/>
<polygon fill="#006400" points="977.7,195.4 982.3,194.3 984.1,200.0 984.7,209.3 980.0,209.3 977.7,204.6"/>
<polygon fill="#AFC950" points="954.6,210.4 961.6,209.3 966.2,207.0 970.8,203.5 975.4,197.7 980.0,194.3 982.3,195.4 981.2,204.6 977.7,211.6 970.8,215.0 954.6,215.0"/>
<polygon fill="#FFFF00" points="970.8,209.3 977.7,204.6 981.2,207.0 982.3,215.0 970.8,215.0"/>
<polygon fill="#0000FF" points="987.0,191.9 991.6,190.8 991.6,215.0 988.1,215.0"/>
<polygon fill="#FFFFFF" points="850.0,67.8 853.0,67.2 856.2,68.5 854.5,70.5 850.8,70.2"/>
<polygon fill="#FFFFFF" points="873.8,65.2 877.5,63.5 880.5,64.5 879.0,67.8 875.0,69.0"/>
<polygon fill="#FFFFFF" points="925.5,79.5 928.5,79.2 929.0,80.8 925.8,81.0"/>
<polygon fill="#FFFF00" points="769.8,73.1 852.3,73.1 852.3,150.0 769.8,150.0"/>
<polygon fill="#FFD700" points="800.0,73.1 852.3,73.1 852.3,150.0 772.3,150.0 769.8,140.1 772.3,130.9 781.5,123.2 793.8,115.5 803.0,106.3 809.2,94.0 806.1,83.2"/>
<polygon fill="#FFA500" points="769.8,146.3 775.4,134.0 781.5,124.7 796.9,114.0 809.2,109.4 821.5,103.2 827.6,109.4 840.0,118.6 852.3,127.8 852.3,150.0 769.8,150.0"/>
<polygon fill="#FFD700" points="815.3,90.9 833.8,84.8 852.3,84.8 852.3,143.2 840.0,130.9 827.6,118.6 818.4,109.4 815.3,100.1"/>
<polygon fill="#FFFF00" points="824.6,94.0 840.0,97.1 852.3,107.8 852.3,130.9 840.0,121.7 830.7,112.4 824.6,103.2"/>
<polygon fill="#AFC950" points="840.0,103.2 847.6,106.3 850.7,115.5 844.6,114.0"/>
<polygon fill="#008000" points="843.6,106.9 846.1,107.8 846.7,110.9 844.3,110.0"/>
<polygon fill="#AFC950" points="847.6,117.1 852.3,118.6 852.3,123.2 849.2,122.3"/>
<polygon fill="#AFC950" points="770.7,94.0 780.0,93.4 781.5,104.8 772.3,104.8"/>
<polygon fill="#AFC950" points="786.1,83.2 793.2,83.2 793.8,94.0 787.0,93.4"/>
<polygon fill="#FF0000" points="790.7,130.9 800.0,127.8 809.2,130.9 812.3,140.1 806.1,146.3 796.9,146.3 792.3,140.1"/>
<polygon fill="#FFA500" points="769.8,73.1 852.3,73.1 852.3,75.5 769.8,75.5"/>
<polygon fill="#FFD700" points="769.8,73.1 790.7,73.1 790.7,75.5 769.8,75.5"/>
<polyline class="cl" points="905.0,52.8 906.2,65.2 912.5,68.2 918.8,69.5 925.0,74.0 931.2,76.5 940.0,77.0 950.0,75.2 957.5,74.5 958.8,52.8"/>
<polyline class="cl" points="896.9,145.8 905.0,145.8 907.3,143.5 909.6,146.9 913.1,148.1 917.7,146.9 917.7,146.9 920.0,150.4 924.6,155.0 928.1,159.6 931.6,165.4 936.2,170.0 940.8,173.5 946.6,176.9 952.3,180.4 958.1,182.7 963.9,184.4 970.8,183.9 977.7,181.6 982.3,179.2 987.0,176.9 991.6,175.6"/>
<polyline class="cl" points="896.9,145.8 895.8,151.5 898.1,163.1 901.5,166.5 901.5,166.5 905.0,174.6 909.6,179.2 914.2,182.7 917.7,186.2 920.0,191.9 922.3,196.6 924.6,200.0 925.8,204.6 928.1,207.0 931.6,208.1 933.9,209.3 938.5,210.4 944.3,209.3 950.0,209.8 955.8,210.4 961.6,209.3 966.2,207.0 970.8,203.5 975.4,197.7 980.0,193.1 983.5,190.8 985.8,189.6 988.1,191.9 989.3,200.0 990.4,209.3 991.6,215.0"/>
<polyline class="cl" points="925.2,191.9 929.2,190.8 932.9,194.3 932.9,202.3 930.6,206.0 926.9,204.9 925.2,198.9 925.2,191.9"/>
<polyline class="bd" points="769.2,77.1 781.5,75.5 796.9,74.0 815.3,72.5 827.6,70.9 840.0,69.4"/>
<polyline class="bd" points="840.0,69.4 833.8,78.6 824.6,94.0 821.5,100.1 809.2,109.4 798.4,114.0"/>
<polyline class="bd" points="769.2,121.7 781.5,118.6 798.4,114.0"/>
<polyline class="bd" points="798.4,114.0 801.5,124.7 790.7,127.8 778.4,134.0 784.6,143.2 781.5,150.0"/>
<polyline class="bd" points="801.5,124.7 818.4,127.8 833.8,134.0 852.3,143.2 870.7,149.4 895.3,147.8"/>
<polyline class="bd" points="846.1,66.3 852.3,72.5 861.5,84.8 870.7,97.1 873.8,109.4 879.9,121.7 889.2,134.0 895.3,146.3"/>
<polyline class="bd" points="753.8,100.1 756.9,118.6 753.8,134.0 750.7,150.0"/>
<polyline class="bd" points="826.2,134.0 860.0,157.0 880.0,157.8 890.0,160.2 892.5,164.0 900.0,164.0"/>
<polyline class="bd" points="880.0,157.8 887.5,147.8 892.5,146.5 897.5,149.0"/>
</g>
<g clip-path="url(#c4)">
<rect x="60" y="214" width="250" height="160" fill="#AFC950"/>
<polygon fill="#006400" points="58.8,212.8 311.2,212.8 311.2,375.2 58.8,375.2"/>
<polygon fill="#008000" points="132.5,212.8 175.0,212.8 177.5,229.0 175.0,239.0 170.0,249.0 172.5,259.0 180.0,254.0 190.0,254.0 200.0,251.5 200.0,261.5 195.0,269.0 185.0,274.0 170.0,276.5 155.0,276.5 142.5,274.0 137.5,264.0 140.0,254.0 135.0,244.0 130.0,234.0 130.0,224.0"/>
<polygon fill="#AFC950" points="175.0,212.8 212.5,212.8 207.5,221.5 202.5,231.5 200.0,241.5 200.0,251.5 190.0,254.0 180.0,254.0 172.5,259.0 170.0,249.0 175.0,239.0 177.5,229.0"/>
<polygon fill="#0000FF" points="58.8,297.8 61.8,297.8 61.8,287.2 65.2,287.2 65.2,299.5 77.2,298.5 91.2,297.8 94.5,290.8 103.2,286.5 112.0,285.5 120.5,282.0 129.2,280.5 143.0,278.8 163.8,277.0 181.2,277.0 198.5,275.2 203.8,273.5 207.2,270.0 210.0,276.5 210.0,289.0 207.5,314.0 205.0,324.0 210.0,334.0 215.0,349.0 220.0,354.0 230.0,359.0 235.0,366.5 240.0,375.2 58.8,375.2"/>
<polygon fill="#006400" points="91.2,311.5 98.0,304.5 106.8,296.0 117.0,292.5 125.8,289.0 136.2,287.2 151.8,292.5 153.5,296.0 146.5,297.8 150.0,304.5 148.2,311.5 143.0,312.5 134.5,309.8 125.8,311.5 117.0,313.2 112.0,314.2 108.5,311.5 101.5,311.5 94.5,312.5"/>
<polygon fill="#006400" points="150.0,285.5 163.8,286.5 174.2,287.2 163.8,289.0 151.8,288.2"/>
<polygon fill="#006400" points="113.8,331.5 132.8,331.5 129.2,335.0 115.5,334.0"/>
<polygon fill="#006400" points="84.2,343.5 98.0,337.5 98.0,339.2 86.0,344.5"/>
<polygon fill="#006400" points="131.0,344.5 146.5,339.2 157.0,335.8 167.2,339.2 174.2,341.0 181.2,346.2 186.2,356.5 191.5,363.5 202.0,370.5 195.0,373.8 181.2,372.0 174.2,373.8 167.2,372.0 163.8,367.0 157.0,363.5 146.5,358.2 139.5,354.8 146.5,351.2 136.2,348.0"/>
<polygon fill="#006400" points="146.5,328.8 153.5,328.0 156.0,332.2 150.0,332.2"/>
<polygon fill="#006400" points="124.0,356.5 131.0,355.8 129.2,360.0 125.8,359.0"/>
<polygon fill="#006400" points="58.8,370.5 77.2,367.0 94.5,364.2 112.0,363.5 129.2,364.2 143.0,367.0 157.0,370.5 167.2,373.8 170.0,375.2 58.8,375.2"/>
<polygon fill="#4169E1" points="170.8,303.0 181.2,300.2 184.5,294.2 196.8,290.8 205.5,289.0 205.5,301.2 198.5,309.8 195.0,315.0 188.0,316.8 184.5,309.8 177.8,306.2 172.5,305.5"/>
<polygon fill="#4169E1" points="186.2,284.0 200.0,283.8 202.0,286.5 187.5,287.2"/>
<polygon fill="#FFFF00" points="212.5,212.8 311.2,212.8 311.2,375.2 240.0,375.2 235.0,366.5 230.0,359.0 220.0,354.0 215.0,349.0 210.0,344.0 205.0,334.0 207.5,326.5 200.0,319.0 195.0,312.8 200.0,311.5 205.0,304.0 208.8,289.0 210.0,276.5 207.5,261.5 202.5,251.5 200.0,239.0 205.0,226.5"/>
<polygon fill="#AFC950" points="212.5,212.8 217.5,212.8 215.0,221.5 210.0,229.0 207.5,239.0 210.0,251.5 212.5,264.0 210.0,276.5 205.0,276.5 202.5,251.5 200.0,239.0 205.0,226.5"/>
<polygon fill="#FFD700" points="220.0,244.0 235.0,239.0 250.0,236.5 260.0,224.0 272.5,212.8 311.2,212.8 311.2,339.0 297.5,339.0 285.0,336.5 277.5,329.0 275.0,314.0 265.0,309.0 255.0,301.5 250.0,289.0 240.0,284.0 230.0,279.0 222.5,271.5 217.5,259.0"/>
<polygon fill="#FFFF00" points="222.5,214.0 235.0,212.8 230.0,224.0 222.5,229.0 217.5,224.0"/>
<polygon fill="#FFA500" points="300.0,261.5 311.2,256.5 311.2,289.0 302.5,284.0 299.5,274.0"/>
<polygon fill="#AFC950" points="207.5,301.5 220.0,296.5 235.0,299.0 247.5,309.0 260.0,319.0 272.5,334.0 285.0,339.0 297.5,344.0 311.2,344.0 311.2,361.5 297.5,361.5 285.0,356.5 272.5,349.0 260.0,339.0 250.0,329.0 235.0,324.0 222.5,319.0 210.0,314.0"/>
<polygon fill="#FFFF00" points="255.0,309.0 267.5,314.0 277.5,324.0 285.0,334.0 277.5,336.5 265.0,331.5 257.5,319.0"/>
<polygon fill="#008000" points="200.0,315.2 222.5,319.0 235.0,324.0 250.0,329.0 260.0,339.0 272.5,349.0 285.0,356.5 297.5,361.5 311.2,361.5 311.2,375.2 240.0,375.2 235.0,366.5 230.0,359.0 220.0,354.0 215.0,349.0 210.0,344.0 205.0,334.0 203.8,324.0"/>
<polygon fill="#006400" points="207.5,321.5 235.0,326.5 250.0,331.5 257.5,344.0 245.0,349.0 235.0,344.0 222.5,339.0 212.5,334.0"/>
<polygon fill="#006400" points="220.0,350.2 235.0,354.0 250.0,364.0 260.0,375.2 240.0,375.2 235.0,366.5 227.5,359.0"/>
<polygon fill="#006400" points="280.0,364.0 297.5,364.0 311.2,366.5 311.2,375.2 285.0,375.2"/>
<polygon fill="#AFC950" points="260.0,349.0 277.5,354.0 285.0,364.0 275.0,366.5 265.0,359.0"/>
<polygon class="is" fill="#AFC950" points="111.0,286.2 113.0,286.0 113.5,288.0 111.5,288.2"/>
<polygon class="is" fill="#AFC950" points="119.5,291.0 121.5,290.5 122.0,292.2 120.0,292.8"/>
<polygon class="is" fill="#AFC950" points="135.0,289.8 137.0,289.5 137.5,291.5 135.5,291.8"/>
<polygon class="is" fill="#AFC950" points="135.0,296.8 137.5,296.2 138.0,298.5 135.5,298.8"/>
<polygon class="is" fill="#AFC950" points="125.5,306.0 127.5,305.5 129.5,308.5 127.5,309.5"/>
<polygon class="is" fill="#AFC950" points="119.5,309.8 121.5,309.5 121.8,311.5 119.8,311.8"/>
<polygon class="is" fill="#AFC950" points="131.8,306.2 133.5,306.2 133.8,308.0 132.0,308.2"/>
<polyline class="cl" points="212.5,212.8 205.0,226.5 200.0,239.0 202.5,251.5 207.5,261.5 210.0,276.5 208.8,289.0 205.0,304.0 200.0,311.5 195.0,312.8 200.0,319.0 207.5,326.5 205.0,334.0 210.0,344.0 215.0,349.0 220.0,354.0 230.0,359.0 235.0,366.5 240.0,375.2"/>
<polyline class="bd" points="200.0,240.2 220.0,240.2 242.5,240.2 243.8,229.0 250.0,224.0 253.8,212.8"/>
<polyline class="bd" points="222.5,240.2 230.0,224.0 235.0,212.8"/>
<polyline class="bd" points="210.0,294.0 222.5,291.5 235.0,294.0 245.0,301.5 252.5,309.0 257.5,301.5 267.5,304.0 280.0,302.8 311.2,302.8"/>
<polyline class="bd" points="252.5,309.0 255.0,319.0 257.5,329.0 260.0,336.5 272.5,339.0 282.5,336.5 290.0,344.0 295.0,354.0 302.5,359.0 311.2,359.0"/>
<polyline class="bd" points="207.5,336.5 222.5,334.0 235.0,335.2 255.0,336.5"/>
<polyline class="bd" points="207.5,327.8 220.0,325.2 235.0,326.5 247.5,326.5"/>
<polyline class="bd" points="212.5,351.5 225.0,349.0 235.0,350.2"/>
</g>
<g clip-path="url(#c5)">
<rect x="310" y="214" width="250" height="160" fill="#AFC950"/>
<polygon fill="#FFD700" points="308.8,212.8 561.2,212.8 561.2,375.2 308.8,375.2"/>
<polygon fill="#FFFF00" points="385.0,212.8 422.5,212.8 427.5,221.5 440.0,234.0 445.0,246.5 447.5,264.0 450.0,276.5 455.0,286.5 470.0,289.0 485.0,281.5 495.0,281.5 505.0,289.0 510.0,299.0 522.5,304.0 542.5,301.5 561.2,299.0 561.2,319.0 547.5,311.5 535.0,314.0 525.0,316.5 515.0,314.0 505.0,319.0 495.0,319.0 480.0,321.5 465.0,324.0 455.0,321.5 445.0,316.5 435.0,314.0 425.0,314.0 415.0,314.0 405.0,314.0 395.0,314.0 387.5,319.0 385.0,331.5 382.5,341.5 376.2,342.0 372.5,334.0 370.0,319.0 367.5,309.0 370.0,294.0 375.0,279.0 382.5,264.0 385.0,246.5 387.5,226.5"/>
<polygon fill="#FFA500" points="308.8,249.0 320.0,246.5 327.5,241.5 332.5,249.0 342.5,255.2 355.0,261.5 362.5,266.5 365.0,274.0 360.0,281.5 355.0,289.0 347.5,296.5 342.5,304.0 335.0,310.2 325.0,312.8 315.0,314.0 308.8,315.2"/>
<polygon fill="#FFD700" points="320.0,276.5 327.5,274.0 330.0,284.0 325.0,289.0 320.0,286.5"/>
<polygon fill="#FFA500" points="445.0,219.0 460.0,212.8 482.5,212.8 480.0,221.5 470.0,224.0 467.5,231.5 460.0,226.5 447.5,224.0"/>
<polygon fill="#FFA500" points="500.0,212.8 510.0,219.0 535.0,224.0 550.0,234.0 547.5,241.5 535.0,241.5 525.0,239.0 510.0,244.0 502.5,239.0 505.0,229.0"/>
<polygon fill="#AFC950" points="392.5,274.0 405.0,271.5 412.5,274.0 410.0,281.5 405.0,286.5 397.5,296.5 390.0,304.0 385.0,306.5 382.5,301.5 390.0,291.5 395.0,281.5"/>
<polygon fill="#AFC950" points="370.0,299.0 375.5,300.2 374.5,307.0 370.0,307.0"/>
<polygon fill="#AFC950" points="308.8,337.8 325.0,331.5 340.0,321.5 352.5,314.0 367.5,308.5 370.0,319.0 372.5,334.0 376.2,342.0 382.5,341.5 385.0,331.5 387.5,319.0 395.0,314.0 405.0,314.0 415.0,314.0 425.0,314.0 435.0,314.0 445.0,316.5 455.0,321.5 465.0,324.0 480.0,321.5 495.0,319.0 505.0,319.0 515.0,314.0 525.0,316.5 535.0,314.0 547.5,311.5 561.2,319.0 561.2,375.2 308.8,375.2"/>
<polygon fill="#008000" points="308.8,354.0 320.0,344.0 327.5,334.0 337.5,326.5 347.5,319.0 350.0,334.0 352.5,341.5 362.5,345.2 375.0,349.0 385.0,352.8 392.5,346.5 405.0,342.8 410.0,351.5 420.0,359.0 430.0,350.2 445.0,351.5 455.0,352.8 456.2,364.0 452.5,375.2 308.8,375.2"/>
<polygon fill="#AFC950" points="310.0,364.0 320.0,361.5 325.0,369.0 317.5,374.0 310.0,374.0"/>
<polygon fill="#AFC950" points="385.0,361.5 395.0,359.0 400.0,364.0 395.0,371.5 385.0,369.0"/>
<polygon fill="#006400" points="350.0,350.2 375.0,349.0 385.0,359.0 386.2,375.2 350.0,375.2"/>
<polygon fill="#006400" points="325.0,339.0 335.0,331.5 345.0,329.0 347.5,344.0 340.0,349.0 327.5,349.0"/>
<polygon fill="#006400" points="430.0,364.0 445.0,361.5 450.0,369.0 445.0,375.2 427.5,375.2"/>
<polygon fill="#008000" points="522.5,319.0 530.0,314.0 542.5,316.0 547.5,324.0 545.0,331.5 535.0,334.0 527.5,329.0"/>
<polygon fill="#006400" points="525.0,319.0 532.5,316.5 540.0,319.0 542.5,326.5 535.0,329.0 528.8,326.5"/>
<polygon fill="#008000" points="465.0,366.5 475.0,366.0 475.5,371.5 465.0,372.0"/>
<polygon fill="#008000" points="502.5,348.5 510.0,348.5 510.0,352.0 502.5,352.0"/>
<polygon fill="#008000" points="495.0,364.0 515.0,363.5 517.5,375.2 495.0,375.2"/>
<polygon fill="#008000" points="395.0,341.5 400.0,341.0 400.5,346.5 395.0,346.5"/>
<polygon fill="#FFFF00" points="535.0,359.0 545.0,358.5 547.5,369.0 536.2,369.5"/>
<polygon fill="#FFFF00" points="405.0,339.0 415.0,336.5 417.5,341.5 410.0,344.0"/>
<polyline class="bd" points="347.5,212.8 392.5,244.0 397.5,251.5 415.0,256.5 417.5,265.2 427.5,264.0 445.0,261.5 465.0,246.5 485.0,234.0 507.5,219.0 510.0,212.8"/>
<polyline class="bd" points="507.5,219.0 535.0,226.5 542.5,224.0 555.0,219.0 561.2,220.2"/>
<polyline class="bd" points="542.5,224.0 545.0,234.0 552.5,251.5 550.0,264.0 547.5,279.0 545.0,289.0 535.0,301.5 527.5,314.0"/>
<polyline class="bd" points="427.5,264.0 426.2,276.5 426.2,294.0 422.5,304.0 410.0,306.5 395.0,309.0 382.5,309.0 370.0,311.5 360.0,319.0 347.5,329.0 335.0,334.0 325.0,339.0"/>
<polyline class="bd" points="312.5,212.8 315.0,239.0 320.0,276.5 322.5,294.0 322.5,304.0 308.8,304.0"/>
<polyline class="bd" points="382.5,309.0 385.0,319.0 392.5,326.5 400.0,334.0 405.0,339.0 415.0,341.5 420.0,346.5 420.0,359.0 422.5,375.2"/>
<polyline class="bd" points="420.0,344.0 430.0,334.0 440.0,324.0 450.0,324.0 460.0,329.0 472.5,329.0 485.0,331.5 500.0,329.0 510.0,326.5 522.5,324.0"/>
<polyline class="bd" points="530.0,326.5 535.0,339.0 540.0,351.5 535.0,364.0 530.0,375.2"/>
<polyline class="bd" points="350.0,375.2 352.5,354.0 380.0,352.8 392.5,349.0 400.0,346.5"/>
<polyline class="bd" points="308.8,356.5 320.0,359.0 325.0,346.5 330.0,344.0"/>
</g>
<g clip-path="url(#c6)">
<rect x="560" y="214" width="250" height="160" fill="#AFC950"/>
<polygon fill="#FFD700" points="558.8,212.8 811.2,212.8 811.2,375.2 558.8,375.2"/>
<polygon fill="#FFA500" points="558.8,239.0 570.0,236.5 580.0,234.0 587.5,229.0 586.2,244.0 583.8,254.0 577.5,259.0 570.0,249.0 558.8,246.5"/>
<polygon fill="#FFA500" points="617.5,284.0 625.0,271.5 627.5,264.0 635.0,259.0 640.0,246.5 645.0,239.0 640.0,229.0 650.0,224.0 660.0,219.0 662.5,226.5 652.5,231.5 647.5,241.5 645.0,251.5 642.5,264.0 640.0,274.0 635.0,284.0 627.5,291.5 620.0,289.0"/>
<polygon fill="#FFFF00" points="558.8,314.0 585.0,315.2 610.0,317.8 635.0,321.5 660.0,317.8 685.0,312.8 700.0,310.2 715.0,307.8 730.0,302.8 750.0,300.2 767.5,296.5 772.5,289.0 775.0,274.0 767.5,254.0 760.0,239.0 755.0,224.0 757.5,212.8 811.2,212.8 811.2,375.2 558.8,375.2"/>
<polygon fill="#AFC950" points="558.8,321.5 572.5,319.0 585.0,320.2 610.0,321.5 625.0,326.5 635.0,331.5 647.5,334.0 665.0,336.5 685.0,339.0 700.0,336.5 715.0,331.5 722.5,324.0 735.0,321.5 750.0,324.0 760.0,331.5 767.5,339.0 775.0,344.0 777.5,354.0 772.5,364.0 760.0,375.2 558.8,375.2"/>
<polygon fill="#FFFF00" points="645.0,366.5 655.0,361.5 665.0,364.0 667.5,375.2 645.0,375.2"/>
<polygon fill="#FFFF00" points="732.5,336.5 745.0,334.0 755.0,339.0 755.0,349.0 747.5,354.0 735.0,349.0"/>
<polygon fill="#FFFF00" points="715.0,349.0 720.0,348.5 720.5,353.0 715.0,353.5"/>
<polygon fill="#AFC950" points="730.0,212.8 735.0,212.8 735.0,224.0 731.2,224.0"/>
<polygon fill="#FFD700" points="783.0,340.0 795.0,339.0 811.2,339.0 811.2,375.2 785.0,375.2 781.2,354.0"/>
<polygon fill="#FFA500" points="797.5,354.0 811.2,349.0 811.2,375.2 795.0,375.2"/>
<polygon fill="#FFA500" points="787.5,319.0 792.5,319.0 793.8,324.0 788.8,325.2"/>
<polygon fill="#FFD700" points="787.4,177.0 787.4,180.0 799.9,195.0 809.9,207.5 819.9,217.4 827.3,229.9 834.8,244.9 842.3,257.4 849.8,267.3 857.3,277.3 862.3,287.3 864.8,299.8 866.0,312.3 867.3,322.3 868.3,332.5 875.8,333.5 883.2,331.5 891.5,327.7 899.0,325.0 883.5,325.0 876.0,327.7 867.8,331.5 860.3,333.5 852.8,332.5 851.8,322.3 850.6,312.3 849.3,299.8 846.8,287.3 841.8,277.3 834.3,267.3 826.8,257.4 819.4,244.9 811.9,229.9 804.4,217.4 794.4,207.5 784.4,195.0 771.9,180.0 771.9,177.0"/>
<polygon fill="#FFFF00" points="776.2,177.0 776.2,180.0 788.7,195.0 798.6,207.5 808.6,217.4 816.1,229.9 823.6,244.9 831.1,257.4 838.6,267.3 846.1,277.3 851.1,287.3 853.6,299.8 854.8,312.3 856.0,322.3 857.0,332.5 864.5,333.5 872.0,331.5 880.3,327.7 887.7,325.0 882.5,325.0 875.0,327.7 866.8,331.5 859.3,333.5 851.8,332.5 850.8,322.3 849.6,312.3 848.3,299.8 845.8,287.3 840.8,277.3 833.3,267.3 825.8,257.4 818.4,244.9 810.9,229.9 803.4,217.4 793.4,207.5 783.4,195.0 770.9,180.0 770.9,177.0"/>
<polygon fill="#AFC950" points="771.9,177.0 771.9,180.0 784.4,195.0 794.4,207.5 804.4,217.4 811.9,229.9 819.4,244.9 826.8,257.4 834.3,267.3 841.8,277.3 846.8,287.3 849.3,299.8 850.6,312.3 851.8,322.3 852.8,332.5 860.3,333.5 867.8,331.5 876.0,327.7 883.5,325.0 878.5,325.0 871.0,327.7 862.8,331.5 855.3,333.5 847.8,332.5 846.8,322.3 845.6,312.3 844.3,299.8 841.8,287.3 836.8,277.3 829.3,267.3 821.9,257.4 814.4,244.9 806.9,229.9 799.4,217.4 789.4,207.5 779.4,195.0 767.0,180.0 767.0,177.0"/>
<polygon fill="#008000" points="768.5,177.0 768.5,180.0 780.9,195.0 790.9,207.5 800.9,217.4 808.4,229.9 815.9,244.9 823.4,257.4 830.8,267.3 838.3,277.3 843.3,287.3 845.8,299.8 847.1,312.3 848.3,322.3 849.3,332.5 856.8,333.5 864.3,331.5 872.5,327.7 880.0,325.0 878.5,325.0 871.0,327.7 862.8,331.5 855.3,333.5 847.8,332.5 846.8,322.3 845.6,312.3 844.3,299.8 841.8,287.3 836.8,277.3 829.3,267.3 821.9,257.4 814.4,244.9 806.9,229.9 799.4,217.4 789.4,207.5 779.4,195.0 767.0,180.0 767.0,177.0"/>
<polygon fill="#AFC950" points="740.5,177.0 743.0,180.0 753.0,195.0 763.0,212.4 770.4,224.9 775.4,237.4 779.2,249.9 781.7,262.4 785.4,272.3 790.4,279.8 795.4,287.3 800.4,299.8 805.4,309.8 812.9,317.3 820.4,319.8 828.1,321.5 833.6,326.2 839.1,331.0 843.1,335.5 844.3,339.2 841.1,342.0 837.3,344.7 834.3,344.7 838.1,342.0 841.3,339.2 840.1,335.5 836.1,331.0 830.6,326.2 825.1,321.5 817.4,319.8 809.9,317.3 802.4,309.8 797.4,299.8 792.4,287.3 787.4,279.8 782.4,272.3 778.7,262.4 776.2,249.9 772.4,237.4 767.5,224.9 760.0,212.4"/>
<polygon fill="#006400" points="740.5,177.0 743.0,180.0 753.0,195.0 763.0,212.4 770.4,224.9 775.4,237.4 779.2,249.9 781.7,262.4 785.4,272.3 790.4,279.8 795.4,287.3 800.4,299.8 805.4,309.8 812.9,317.3 820.4,319.8 828.1,321.5 833.6,326.2 839.1,331.0 843.1,335.5 844.3,339.2 841.1,342.0 837.3,344.7 878.5,325.0 871.0,327.7 862.8,331.5 855.3,333.5 847.8,332.5 846.8,322.3 845.6,312.3 844.3,299.8 841.8,287.3 836.8,277.3 829.3,267.3 821.9,257.4 814.4,244.9 806.9,229.9 799.4,217.4 789.4,207.5 779.4,195.0 767.0,180.0 767.0,177.0"/>
<polygon fill="#0000FF" points="742.5,177.0 745.0,180.0 755.0,195.0 765.0,212.4 772.4,224.9 777.4,237.4 781.2,249.9 783.7,262.4 787.4,272.3 792.4,279.8 797.4,287.3 802.4,299.8 807.4,309.8 814.9,317.3 822.4,319.8 830.1,321.5 835.6,326.2 841.1,331.0 845.1,335.5 846.3,339.2 843.1,342.0 839.3,344.7 876.5,325.0 869.0,327.7 860.8,331.5 853.3,333.5 845.8,332.5 844.8,322.3 843.6,312.3 842.3,299.8 839.8,287.3 834.8,277.3 827.3,267.3 819.9,257.4 812.4,244.9 804.9,229.9 797.4,217.4 787.4,207.5 777.4,195.0 765.0,180.0 765.0,177.0"/>
<polygon fill="#4169E1" points="777.4,229.9 792.4,219.9 799.9,222.4 807.4,232.4 814.9,247.4 822.4,259.9 829.8,269.8 837.3,279.8 839.8,292.3 839.8,309.8 841.1,322.3 842.3,329.7 839.8,333.5 829.8,327.2 817.4,319.8 809.9,312.3 802.4,302.3 797.4,289.8 789.9,279.8 784.9,267.3 782.4,254.9 779.9,242.4"/>
<polygon fill="#0000FF" points="809.9,297.3 822.4,294.8 834.8,289.8 837.3,294.8 824.9,299.8 812.4,302.3"/>
<polygon fill="#0000FF" points="802.4,259.9 807.4,259.9 808.6,264.9 803.6,266.1"/>
<polygon fill="#008000" points="702.5,367.8 710.0,365.2 713.0,371.5 710.0,375.2 702.5,375.2"/>
<polygon fill="#008000" points="575.0,372.0 587.5,371.5 587.5,375.2 575.0,375.2"/>
<polygon fill="#008000" points="682.5,371.5 690.0,371.0 690.0,375.2 682.5,375.2"/>
<polygon fill="#008000" points="567.0,330.5 570.0,330.5 570.0,333.0 567.0,333.0"/>
<polygon fill="#FFFF00" points="700.0,300.0 810.0,300.0 810.0,380.0 700.0,380.0"/>
<polygon fill="#FFD700" points="700.0,300.0 810.0,300.0 810.0,380.0 789.9,380.0 786.1,369.9 783.6,359.9 782.4,349.9 784.9,337.5 786.1,328.7 779.9,323.7 774.9,318.7 771.2,311.2 737.5,312.5 736.2,305.0 725.0,303.7 724.3,311.2 700.0,311.2"/>
<polygon fill="#FFA500" points="784.9,367.4 789.9,359.9 794.9,353.7 799.9,349.9 804.9,352.4 810.0,354.9 810.0,380.0 787.4,380.0"/>
<polygon fill="#FFA500" points="789.3,325.0 793.0,325.6 793.6,330.6 789.9,331.2"/>
<polygon fill="#FFA500" points="794.9,303.1 798.6,303.7 798.9,307.5 795.5,307.5"/>
<polygon fill="#FFA500" points="799.9,349.9 803.6,349.3 804.2,352.4 800.5,353.1"/>
<polygon fill="#AFC950" points="700.0,333.7 712.5,328.7 722.5,325.0 723.7,321.2 733.7,320.0 735.0,327.5 733.7,335.0 728.7,336.2 725.0,337.5 732.5,337.5 737.5,338.7 741.2,342.4 743.7,348.7 746.2,354.9 748.7,362.4 751.2,369.9 753.7,380.0 700.0,380.0"/>
<polygon fill="#AFC950" points="740.0,322.5 744.9,321.2 746.2,325.0 752.4,326.2 754.9,321.2 762.4,320.0 769.9,325.0 774.9,328.7 781.1,330.0 782.4,335.0 779.9,341.2 774.9,344.9 769.9,347.4 769.9,354.9 766.2,362.4 759.9,362.4 754.9,359.9 752.4,354.9 752.4,349.9 749.9,347.4 744.9,346.2 741.2,340.0 738.7,335.0 737.5,330.0"/>
<polygon fill="#FFFF00" points="712.5,340.0 717.5,339.3 717.5,343.7 713.1,343.9"/>
<polygon fill="#FFFF00" points="713.7,349.9 720.0,349.7 719.7,352.4 714.0,352.7"/>
<polygon fill="#008000" points="700.0,366.2 705.0,364.9 710.0,367.4 715.0,374.9 712.5,380.0 700.0,380.0"/>
<polyline class="cl" points="742.5,177.0 745.0,180.0 755.0,195.0 765.0,212.4 772.4,224.9 777.4,237.4 781.2,249.9 783.7,262.4 787.4,272.3 792.4,279.8 797.4,287.3 802.4,299.8 807.4,309.8 814.9,317.3 822.4,319.8 830.1,321.5 835.6,326.2 841.1,331.0 845.1,335.5 846.3,339.2 843.1,342.0 839.3,344.7"/>
<polyline class="bd" points="774.9,300.0 771.8,307.5 773.0,316.2 779.9,315.6 787.4,311.2 792.4,315.0 799.9,313.7 810.0,315.0"/>
<polyline class="bd" points="773.0,316.2 771.2,325.0 767.4,332.5 762.4,335.0 757.4,342.4 754.9,349.9 749.9,354.9 747.4,362.4 746.2,369.9 746.2,380.0"/>
<polyline class="bd" points="700.0,361.2 712.5,364.9 720.0,359.9 726.2,352.4 727.5,342.4 733.7,340.0 737.5,340.0 736.2,354.9 741.2,359.9 746.2,363.7"/>
<polyline class="bd" points="558.8,221.5 637.5,259.0 638.8,301.5 630.0,301.5 625.0,306.5 620.0,321.5 617.5,334.0 622.5,344.0 625.0,351.5 632.5,364.0 635.0,375.2"/>
<polyline class="bd" points="648.8,212.8 650.0,234.0 718.8,234.0 775.0,234.0"/>
<polyline class="bd" points="637.5,256.5 650.0,255.2 650.0,234.0"/>
<polyline class="bd" points="645.0,375.2 650.0,359.0 660.0,359.0 670.0,369.0 690.0,369.0 700.0,361.5 715.0,364.0 725.0,354.0 725.0,341.5"/>
<polyline class="bd" points="592.5,375.2 610.0,359.0 625.0,351.5"/>
</g>
<g clip-path="url(#c7)">
<rect x="810" y="214" width="181" height="160" fill="#AFC950"/>
<polygon fill="#FFFF00" points="808.8,212.8 1061.2,212.8 1061.2,375.2 808.8,375.2"/>
<polygon fill="#FFA500" points="815.0,212.8 930.0,212.8 935.0,219.0 945.0,229.0 952.5,239.0 950.0,249.0 940.0,264.0 935.0,279.0 930.0,289.0 915.0,296.5 897.5,301.5 885.0,306.5 875.0,314.0 865.0,316.5 855.0,319.0 847.5,314.0 842.5,296.5 835.0,281.5 825.0,264.0 817.5,251.5 812.5,239.0 811.2,226.5 812.5,212.8"/>
<polygon fill="#FFD700" points="787.4,177.0 787.4,180.0 799.9,195.0 809.9,207.5 819.9,217.4 827.3,229.9 834.8,244.9 842.3,257.4 849.8,267.3 857.3,277.3 862.3,287.3 864.8,299.8 866.0,312.3 867.3,322.3 868.3,332.5 875.8,333.5 883.2,331.5 891.5,327.7 899.0,325.0 883.5,325.0 876.0,327.7 867.8,331.5 860.3,333.5 852.8,332.5 851.8,322.3 850.6,312.3 849.3,299.8 846.8,287.3 841.8,277.3 834.3,267.3 826.8,257.4 819.4,244.9 811.9,229.9 804.4,217.4 794.4,207.5 784.4,195.0 771.9,180.0 771.9,177.0"/>
<polygon fill="#FFFF00" points="776.2,177.0 776.2,180.0 788.7,195.0 798.6,207.5 808.6,217.4 816.1,229.9 823.6,244.9 831.1,257.4 838.6,267.3 846.1,277.3 851.1,287.3 853.6,299.8 854.8,312.3 856.0,322.3 857.0,332.5 864.5,333.5 872.0,331.5 880.3,327.7 887.7,325.0 882.5,325.0 875.0,327.7 866.8,331.5 859.3,333.5 851.8,332.5 850.8,322.3 849.6,312.3 848.3,299.8 845.8,287.3 840.8,277.3 833.3,267.3 825.8,257.4 818.4,244.9 810.9,229.9 803.4,217.4 793.4,207.5 783.4,195.0 770.9,180.0 770.9,177.0"/>
<polygon fill="#FFD700" points="935.0,219.0 950.0,219.0 965.0,229.0 980.0,234.0 985.0,251.5 982.5,271.5 970.0,281.5 955.0,289.0 940.0,294.0 930.0,291.5 935.0,279.0 940.0,264.0 950.0,249.0 952.5,239.0 945.0,229.0"/>
<polygon fill="#AFC950" points="935.0,212.8 975.0,212.8 972.5,224.0 965.0,226.5 952.5,224.0 942.5,219.0"/>
<polygon fill="#AFC950" points="982.5,212.8 991.2,212.8 991.2,220.2 985.0,219.0"/>
<polygon fill="#FF0000" points="820.0,249.0 832.5,239.0 842.5,241.5 847.5,249.0 840.0,259.0 852.5,264.0 870.0,264.0 885.0,271.5 895.0,259.0 897.5,244.0 900.0,234.0 910.0,231.5 920.0,234.0 930.0,241.5 927.5,254.0 920.0,264.0 910.0,271.5 897.5,279.0 887.5,284.0 875.0,289.0 865.0,296.5 860.0,309.0 860.0,319.0 852.5,316.5 850.0,301.5 842.5,286.5 835.0,274.0 825.0,261.5"/>
<polygon fill="#FF0000" points="875.0,212.8 881.2,212.8 880.0,224.0 877.0,232.8 874.5,229.0"/>
<polygon fill="#FF0000" points="890.0,219.0 893.8,217.8 894.5,224.0 890.5,225.2"/>
<polygon fill="#FFFF00" points="846.0,314.0 853.5,315.0 861.0,313.0 869.2,309.2 876.8,306.5 886.0,304.8 895.5,301.8 903.0,299.0 910.0,295.2 915.0,293.2 930.0,288.2 940.0,280.2 950.0,275.8 965.0,270.8 980.0,265.2 992.0,259.0 992.0,268.2 980.0,274.5 965.0,280.0 950.0,285.0 940.0,289.5 930.0,297.5 915.0,302.5 910.0,304.5 903.0,308.2 895.5,311.0 886.0,314.0 876.8,315.8 869.2,318.5 861.0,322.2 853.5,324.2 846.0,323.2"/>
<polygon fill="#AFC950" points="846.0,323.2 853.5,324.2 861.0,322.2 869.2,318.5 876.8,315.8 886.0,314.0 895.5,311.0 903.0,308.2 910.0,304.5 915.0,302.5 930.0,297.5 940.0,289.5 950.0,285.0 965.0,280.0 980.0,274.5 992.0,268.2 992.0,276.2 980.0,282.5 965.0,288.0 950.0,293.0 940.0,297.5 930.0,305.5 915.0,310.5 910.0,312.5 903.0,316.2 895.5,319.0 886.0,322.0 876.8,323.8 869.2,326.5 861.0,330.2 853.5,332.2 846.0,331.2"/>
<polygon fill="#008000" points="846.0,331.2 853.5,332.2 861.0,330.2 869.2,326.5 876.8,323.8 886.0,322.0 895.5,319.0 903.0,316.2 910.0,312.5 915.0,310.5 930.0,305.5 940.0,297.5 950.0,293.0 965.0,288.0 980.0,282.5 992.0,276.2 992.0,278.2 980.0,284.5 965.0,290.0 950.0,295.0 940.0,299.5 930.0,307.5 915.0,312.5 910.0,314.5 903.0,318.2 895.5,321.0 886.0,324.0 876.8,325.8 869.2,328.5 861.0,332.2 853.5,334.2 846.0,333.2"/>
<polygon fill="#006400" points="930.0,307.0 940.0,299.0 950.0,294.5 965.0,289.5 980.0,284.0 992.0,277.8 992.0,375.2 927.5,375.2 930.0,354.0 935.0,344.0"/>
<polygon fill="#006400" points="846.0,332.5 853.5,333.5 861.0,331.5 869.2,327.8 876.8,325.0 886.0,323.2 895.5,320.2 903.0,317.5 910.0,313.8 915.0,311.8 930.0,306.8 940.0,298.8 950.0,294.2 965.0,289.2 980.0,283.8 992.0,277.5 992.0,289.0 975.0,289.0 960.0,294.0 950.0,299.0 942.5,309.0 940.0,324.0 937.5,329.0 935.0,345.5 930.0,348.0 922.5,351.8 910.0,350.0 899.2,351.0 890.8,352.5 882.5,354.8 875.0,356.2 867.5,357.5 861.0,359.5 854.2,357.5 848.8,353.8 844.0,348.2 839.5,346.5"/>
<polygon fill="#0000FF" points="846.0,332.8 853.5,333.8 861.0,331.8 869.2,328.0 876.8,325.2 886.0,323.5 895.5,320.5 903.0,317.8 910.0,314.0 915.0,312.0 930.0,307.0 940.0,299.0 950.0,294.5 965.0,289.5 980.0,284.0 992.0,277.8 992.0,289.0 975.0,289.0 960.0,294.0 950.0,299.0 942.5,309.0 940.0,324.0 937.5,329.0 935.0,344.0 930.0,346.5 922.5,350.2 910.0,348.5 899.2,349.5 890.8,351.0 882.5,353.2 875.0,354.8 867.5,356.0 861.0,358.0 854.2,356.0 848.8,352.2 844.0,346.8 839.5,345.0"/>
<polygon fill="#006400" points="895.0,324.0 910.0,320.2 922.5,317.8 932.5,321.5 927.5,329.0 915.0,332.8 902.5,331.5"/>
<polygon fill="#006400" points="891.8,339.0 903.0,336.5 905.0,344.0 895.0,345.2"/>
<polygon fill="#0000FF" points="960.0,306.5 970.0,304.0 975.0,309.0 970.0,314.0 962.5,312.8"/>
<polygon fill="#0000FF" points="965.0,316.5 980.0,311.5 985.0,309.0 986.2,319.0 980.0,324.0 970.0,326.5 965.0,324.0"/>
<polygon fill="#0000FF" points="985.0,276.5 992.0,274.0 992.0,339.0 988.0,336.5 988.8,314.0 987.5,289.0"/>
<polygon fill="#4169E1" points="845.0,333.5 851.2,334.0 852.5,341.5 850.5,352.0 847.5,346.5 844.5,340.2"/>
<polygon fill="#AFC950" points="771.9,177.0 771.9,180.0 784.4,195.0 794.4,207.5 804.4,217.4 811.9,229.9 819.4,244.9 826.8,257.4 834.3,267.3 841.8,277.3 846.8,287.3 849.3,299.8 850.6,312.3 851.8,322.3 852.8,332.5 860.3,333.5 867.8,331.5 876.0,327.7 883.5,325.0 878.5,325.0 871.0,327.7 862.8,331.5 855.3,333.5 847.8,332.5 846.8,322.3 845.6,312.3 844.3,299.8 841.8,287.3 836.8,277.3 829.3,267.3 821.9,257.4 814.4,244.9 806.9,229.9 799.4,217.4 789.4,207.5 779.4,195.0 767.0,180.0 767.0,177.0"/>
<polygon fill="#008000" points="768.5,177.0 768.5,180.0 780.9,195.0 790.9,207.5 800.9,217.4 808.4,229.9 815.9,244.9 823.4,257.4 830.8,267.3 838.3,277.3 843.3,287.3 845.8,299.8 847.1,312.3 848.3,322.3 849.3,332.5 856.8,333.5 864.3,331.5 872.5,327.7 880.0,325.0 878.5,325.0 871.0,327.7 862.8,331.5 855.3,333.5 847.8,332.5 846.8,322.3 845.6,312.3 844.3,299.8 841.8,287.3 836.8,277.3 829.3,267.3 821.9,257.4 814.4,244.9 806.9,229.9 799.4,217.4 789.4,207.5 779.4,195.0 767.0,180.0 767.0,177.0"/>
<polygon fill="#AFC950" points="740.5,177.0 743.0,180.0 753.0,195.0 763.0,212.4 770.4,224.9 775.4,237.4 779.2,249.9 781.7,262.4 785.4,272.3 790.4,279.8 795.4,287.3 800.4,299.8 805.4,309.8 812.9,317.3 820.4,319.8 828.1,321.5 833.6,326.2 839.1,331.0 843.1,335.5 844.3,339.2 841.1,342.0 837.3,344.7 834.3,344.7 838.1,342.0 841.3,339.2 840.1,335.5 836.1,331.0 830.6,326.2 825.1,321.5 817.4,319.8 809.9,317.3 802.4,309.8 797.4,299.8 792.4,287.3 787.4,279.8 782.4,272.3 778.7,262.4 776.2,249.9 772.4,237.4 767.5,224.9 760.0,212.4"/>
<polygon fill="#006400" points="740.5,177.0 743.0,180.0 753.0,195.0 763.0,212.4 770.4,224.9 775.4,237.4 779.2,249.9 781.7,262.4 785.4,272.3 790.4,279.8 795.4,287.3 800.4,299.8 805.4,309.8 812.9,317.3 820.4,319.8 828.1,321.5 833.6,326.2 839.1,331.0 843.1,335.5 844.3,339.2 841.1,342.0 837.3,344.7 878.5,325.0 871.0,327.7 862.8,331.5 855.3,333.5 847.8,332.5 846.8,322.3 845.6,312.3 844.3,299.8 841.8,287.3 836.8,277.3 829.3,267.3 821.9,257.4 814.4,244.9 806.9,229.9 799.4,217.4 789.4,207.5 779.4,195.0 767.0,180.0 767.0,177.0"/>
<polygon fill="#0000FF" points="742.5,177.0 745.0,180.0 755.0,195.0 765.0,212.4 772.4,224.9 777.4,237.4 781.2,249.9 783.7,262.4 787.4,272.3 792.4,279.8 797.4,287.3 802.4,299.8 807.4,309.8 814.9,317.3 822.4,319.8 830.1,321.5 835.6,326.2 841.1,331.0 845.1,335.5 846.3,339.2 843.1,342.0 839.3,344.7 876.5,325.0 869.0,327.7 860.8,331.5 853.3,333.5 845.8,332.5 844.8,322.3 843.6,312.3 842.3,299.8 839.8,287.3 834.8,277.3 827.3,267.3 819.9,257.4 812.4,244.9 804.9,229.9 797.4,217.4 787.4,207.5 777.4,195.0 765.0,180.0 765.0,177.0"/>
<polygon fill="#4169E1" points="777.4,229.9 792.4,219.9 799.9,222.4 807.4,232.4 814.9,247.4 822.4,259.9 829.8,269.8 837.3,279.8 839.8,292.3 839.8,309.8 841.1,322.3 842.3,329.7 839.8,333.5 829.8,327.2 817.4,319.8 809.9,312.3 802.4,302.3 797.4,289.8 789.9,279.8 784.9,267.3 782.4,254.9 779.9,242.4"/>
<polygon fill="#0000FF" points="809.9,297.3 822.4,294.8 834.8,289.8 837.3,294.8 824.9,299.8 812.4,302.3"/>
<polygon fill="#0000FF" points="802.4,259.9 807.4,259.9 808.6,264.9 803.6,266.1"/>
<polygon fill="#AFC950" points="808.8,212.8 815.0,212.8 812.5,226.5 813.8,239.0 817.5,251.5 808.8,249.0"/>
<polygon fill="#AFC950" points="808.8,319.0 815.0,321.5 825.0,324.0 835.0,331.5 839.5,345.0 839.5,345.0 844.0,346.8 848.8,352.2 854.2,356.0 861.0,358.0 867.5,356.0 875.0,354.8 882.5,353.2 890.8,351.0 899.2,349.5 910.0,348.5 922.5,350.2 930.0,346.5 935.0,344.0 930.0,354.0 927.5,375.2 920.0,375.2 915.0,364.0 897.5,361.5 885.0,364.0 872.5,366.5 855.0,367.8 842.5,365.2 835.0,356.5 825.0,346.5 815.0,341.5 808.8,339.0"/>
<polygon fill="#008000" points="835.0,331.5 839.5,345.0 839.5,345.0 844.0,346.8 848.8,352.2 854.2,356.0 861.0,358.0 867.5,356.0 875.0,354.8 882.5,353.2 890.8,351.0 899.2,349.5 910.0,348.5 910.0,351.5 895.0,353.0 875.0,357.0 857.5,362.0 842.5,360.2 835.0,351.5 830.0,339.0"/>
<polygon fill="#FFA500" points="808.8,364.0 820.0,366.5 825.0,375.2 808.8,375.2"/>
<polygon fill="#FFD700" points="808.8,354.0 817.5,356.5 825.0,364.0 830.0,375.2 820.0,375.2 808.8,369.0"/>
<polyline class="cl" points="765.0,177.0 765.0,180.0 777.4,195.0 787.4,207.5 797.4,217.4 804.9,229.9 812.4,244.9 819.9,257.4 827.3,267.3 834.8,277.3 839.8,287.3 842.3,299.8 843.6,312.3 844.8,322.3 845.8,332.5 853.3,333.5 860.8,331.5 869.0,327.7 876.5,325.0"/>
<polyline class="cl" points="742.5,177.0 745.0,180.0 755.0,195.0 765.0,212.4 772.4,224.9 777.4,237.4 781.2,249.9 783.7,262.4 787.4,272.3 792.4,279.8 797.4,287.3 802.4,299.8 807.4,309.8 814.9,317.3 822.4,319.8 830.1,321.5 835.6,326.2 841.1,331.0 845.1,335.5 846.3,339.2 843.1,342.0 839.3,344.7"/>
<polyline class="cl" points="846.0,332.8 853.5,333.8 861.0,331.8 869.2,328.0 876.8,325.2 886.0,323.5 895.5,320.5 903.0,317.8 910.0,314.0 915.0,312.0 930.0,307.0 940.0,299.0 950.0,294.5 965.0,289.5 980.0,284.0 992.0,277.8"/>
<polyline class="cl" points="835.0,331.5 839.5,345.0 839.5,345.0 844.0,346.8 848.8,352.2 854.2,356.0 861.0,358.0 867.5,356.0 875.0,354.8 882.5,353.2 890.8,351.0 899.2,349.5 910.0,348.5 922.5,350.2 930.0,346.5 935.0,344.0 932.5,354.0 930.0,364.0 927.5,375.2"/>
<polyline class="cl" points="953.8,336.0 960.0,334.0 965.0,335.2 960.0,337.0 955.0,337.0"/>
<polyline class="bd" points="845.0,281.5 850.0,284.0 860.0,285.2 875.0,286.5 885.0,286.5 897.5,279.0 910.0,271.5 922.5,267.8 940.0,266.5 955.0,261.5 970.0,256.5"/>
<polyline class="bd" points="940.0,266.5 945.0,279.0 950.0,291.5"/>
<polyline class="bd" points="937.5,212.8 950.0,224.0 972.5,226.5 975.0,234.0 975.0,249.0 970.0,256.5"/>
<polyline class="bd" points="830.0,334.0 830.0,349.0 835.0,354.0 840.0,361.5 842.5,374.0"/>
</g>
<g clip-path="url(#c8)">
<rect x="60" y="374" width="250" height="128" fill="#AFC950"/>
<polygon fill="#006400" points="58.8,372.8 311.2,372.8 311.2,535.2 58.8,535.2"/>
<polygon fill="#0000FF" points="120.0,386.5 125.0,379.0 135.0,372.8 240.0,372.8 240.0,389.0 235.0,392.8 210.0,389.0 200.0,387.8 190.0,391.5 185.0,396.5 177.5,399.0 170.0,399.0 160.0,401.5 152.5,404.0 145.0,401.5 142.5,394.0 130.0,391.5 120.0,390.2"/>
<polygon fill="#006400" points="172.5,372.8 180.0,372.8 182.5,379.0 177.5,381.5"/>
<polygon fill="#006400" points="185.0,379.0 195.0,377.8 196.2,382.8 187.5,384.0"/>
<polygon fill="#0000FF" points="76.2,396.5 85.0,394.0 95.0,392.8 95.0,396.5 85.0,397.8 77.5,399.0"/>
<polygon fill="#0000FF" points="248.8,395.2 255.0,396.0 253.8,401.0 250.0,400.2"/>
<polygon fill="#0000FF" points="245.0,405.2 248.8,405.2 248.8,408.5 245.0,408.5"/>
<polygon fill="#008000" points="58.8,479.0 67.5,479.0 75.0,486.5 90.0,494.0 107.5,494.0 110.0,474.0 130.0,469.0 147.5,464.0 160.0,459.0 167.5,456.5 177.5,449.0 187.5,444.0 197.5,449.0 210.0,451.5 220.0,446.5 235.0,451.5 260.0,449.0 277.5,451.5 311.2,449.0 311.2,535.2 58.8,535.2"/>
<polygon fill="#006400" points="70.0,484.0 85.0,481.5 100.0,479.0 108.8,481.5 107.5,494.0 90.0,494.0 75.0,491.5"/>
<polygon fill="#006400" points="75.0,491.5 90.0,494.0 107.5,494.0 110.0,502.0 75.0,502.0"/>
<polygon fill="#006400" points="182.5,454.0 192.5,451.5 200.0,456.5 207.5,464.0 200.0,466.5 190.0,461.5"/>
<polygon fill="#AFC950" points="177.5,502.8 190.0,496.5 202.5,494.0 210.0,496.5 220.0,502.8"/>
<polygon fill="#AFC950" points="255.0,502.8 272.5,499.0 297.5,499.0 311.2,500.2 311.2,502.8"/>
<polygon fill="#008000" points="240.0,372.8 311.2,372.8 311.2,419.0 302.5,422.8 295.0,420.2 285.0,414.0 275.0,406.5 265.0,399.0 255.0,394.0 242.5,384.0"/>
<polygon fill="#AFC950" points="277.5,372.8 295.0,372.8 297.5,379.0 290.0,384.0 280.0,381.5"/>
<polygon fill="#AFC950" points="295.0,386.5 302.5,385.2 303.8,390.2 297.5,391.5"/>
<polygon fill="#006400" points="260.0,379.0 272.5,381.5 280.0,389.0 285.0,399.0 277.5,401.5 267.5,394.0"/>
<polygon fill="#006400" points="292.5,399.0 305.0,396.5 311.2,401.5 311.2,416.5 302.5,419.0 295.0,411.5"/>
<polyline class="cl" points="240.0,372.8 242.5,384.0 255.0,394.0 265.0,399.0 275.0,406.5 285.0,414.0 295.0,420.2 302.5,422.8 311.2,419.0"/>
<polyline class="bd" points="265.0,372.8 270.0,381.5 280.0,384.0 285.0,391.5 292.5,396.5 300.0,404.0 302.5,422.8"/>
<polyline class="bd" points="285.0,391.5 295.0,389.0 302.5,394.0 305.0,404.0"/>
</g>
<g clip-path="url(#c9)">
<rect x="310" y="374" width="250" height="128" fill="#AFC950"/>
<polygon fill="#008000" points="308.8,372.8 561.2,372.8 561.2,535.2 308.8,535.2"/>
<polygon fill="#006400" points="308.8,419.0 322.5,415.2 335.0,414.0 347.5,415.2 360.0,419.0 375.0,411.5 390.0,406.5 405.0,404.0 420.0,401.5 430.0,401.5 437.5,406.5 442.5,416.5 447.5,421.5 460.0,421.5 472.5,419.0 480.0,424.0 485.0,431.5 487.5,444.0 485.0,454.0 482.5,459.0 482.5,466.5 460.0,469.0 435.0,469.0 422.5,464.0 410.0,459.0 397.5,454.0 385.0,451.5 360.0,454.0 335.0,454.0 308.8,449.0"/>
<polygon fill="#AFC950" points="308.8,497.8 325.0,491.5 335.0,494.0 360.0,491.5 372.5,487.8 385.0,489.0 397.5,491.5 410.0,494.0 422.5,496.5 435.0,499.0 450.0,500.2 460.0,502.8 308.8,502.8"/>
<polygon fill="#008000" points="345.0,496.5 360.0,496.5 362.5,502.8 345.0,502.8"/>
<polygon fill="#AFC950" points="325.0,487.8 332.5,486.5 335.0,492.8 327.5,494.0"/>
<polygon fill="#AFC950" points="340.0,489.0 347.5,488.5 347.5,492.8 341.2,492.8"/>
<polygon fill="#AFC950" points="347.5,379.0 360.0,380.2 365.0,387.8 360.0,391.5 352.5,386.5"/>
<polygon fill="#AFC950" points="415.0,381.5 430.0,379.0 447.5,381.5 450.0,386.5 435.0,389.0 420.0,387.8"/>
<polygon fill="#AFC950" points="462.5,372.8 475.0,372.8 473.8,379.0 463.8,379.0"/>
<polygon fill="#006400" points="372.5,384.0 385.0,382.8 397.5,389.0 397.5,401.5 385.0,406.5 375.0,404.0 370.0,394.0"/>
<polygon fill="#006400" points="445.0,389.0 460.0,386.5 475.0,391.5 477.5,406.5 472.5,419.0 460.0,420.2 450.0,416.5 442.5,404.0"/>
<polygon fill="#006400" points="312.5,384.0 325.0,381.5 330.0,391.5 320.0,396.5 313.8,391.5"/>
<polygon fill="#006400" points="405.0,391.5 415.0,394.0 417.5,401.5 407.5,402.8"/>
<polygon fill="#AFC950" points="480.0,409.0 485.0,399.0 500.0,394.0 502.5,384.0 510.0,379.0 515.0,372.8 561.2,372.8 561.2,444.0 547.5,446.5 535.0,444.0 522.5,446.5 510.0,444.0 500.0,434.0 495.0,424.0 485.0,421.5"/>
<polygon fill="#008000" points="497.5,411.5 507.5,410.2 515.0,416.5 512.5,424.0 502.5,422.8"/>
<polygon fill="#008000" points="522.5,419.0 530.0,417.8 535.0,426.5 530.0,431.5 523.8,429.0"/>
<polygon fill="#008000" points="500.0,430.2 510.0,429.0 512.5,436.5 505.0,439.5"/>
<polygon fill="#008000" points="485.0,421.5 495.0,424.0 500.0,434.0 495.0,439.0 487.5,436.5"/>
<polygon fill="#FFFF00" points="530.0,381.5 540.0,379.0 550.0,384.0 548.8,394.0 540.0,392.8 532.5,389.0"/>
<polygon fill="#FFFF00" points="492.5,401.5 497.5,401.0 497.5,404.5 492.5,404.5"/>
<polygon fill="#AFC950" points="505.0,484.0 520.0,481.5 535.0,486.5 532.5,499.0 515.0,501.5 505.0,496.5"/>
<polygon fill="#AFC950" points="535.0,471.5 547.5,469.0 555.0,474.0 552.5,489.0 540.0,489.0"/>
<polygon fill="#AFC950" points="520.0,471.5 527.5,472.8 525.0,479.0 520.0,477.8"/>
<polygon fill="#006400" points="485.0,469.0 495.0,467.8 500.0,479.0 492.5,484.0 485.0,479.0"/>
<polygon fill="#0000FF" points="556.2,489.0 561.2,486.5 561.2,496.5 556.2,495.2"/>
<polyline class="cl" points="308.8,419.0 322.5,415.2 335.0,414.0 347.5,415.2 360.0,419.0 375.0,411.5 390.0,406.5 405.0,404.0 420.0,401.5 430.0,401.5 437.5,406.5 442.5,416.5 447.5,421.5 460.0,421.5 472.5,419.0 480.0,424.0 485.0,431.5 487.5,444.0 485.0,454.0 482.5,459.0 485.0,466.5 480.0,474.0 475.0,479.0 480.0,486.5 485.0,494.0 490.0,502.8"/>
<polyline class="cl" points="472.5,431.5 476.2,430.2 475.5,435.2 472.5,435.2 472.5,431.5"/>
<polyline class="bd" points="347.5,415.2 345.0,399.0 350.0,384.0 355.0,372.8"/>
<polyline class="bd" points="390.0,406.5 387.5,389.0 390.0,372.8"/>
<polyline class="bd" points="400.0,404.0 398.8,389.0 400.0,372.8"/>
<polyline class="bd" points="410.0,402.8 411.2,389.0 412.5,372.8"/>
<polyline class="bd" points="485.0,431.5 482.5,414.0 480.0,404.0 485.0,396.5 500.0,394.0 502.5,384.0 510.0,379.0 517.5,372.8"/>
<polyline class="bd" points="487.5,445.2 502.5,445.2 503.8,459.0 490.0,459.0"/>
<polyline class="bd" points="503.8,446.5 522.5,446.5 535.0,449.0 535.0,469.0 530.0,479.0 535.0,494.0 522.5,496.5 510.0,495.2 505.0,502.0"/>
<polyline class="bd" points="545.0,372.8 540.0,399.0 537.5,411.5 545.0,424.0 550.0,436.5 555.0,446.5 561.2,444.0"/>
</g>
<g clip-path="url(#c10)">
<rect x="560" y="374" width="250" height="128" fill="#AFC950"/>
<polygon fill="#AFC950" points="558.8,372.8 811.2,372.8 811.2,535.2 558.8,535.2"/>
<polygon fill="#008000" points="558.8,444.0 570.0,441.5 575.0,434.0 580.0,426.5 582.5,444.0 592.5,449.0 605.0,446.5 617.5,446.5 625.0,441.5 632.5,429.0 635.0,426.5 645.0,436.5 655.0,439.0 665.0,446.5 667.5,456.5 670.0,469.0 667.5,479.0 660.0,484.0 655.0,491.5 650.0,502.8 610.0,502.8 612.5,496.5 605.0,489.0 597.5,491.5 585.0,494.0 580.0,502.8 558.8,502.8"/>
<polygon fill="#AFC950" points="647.5,472.8 657.5,470.2 665.0,476.5 662.5,486.5 652.5,485.2"/>
<polygon fill="#AFC950" points="600.0,451.5 610.0,449.0 620.0,454.0 617.5,461.5 607.5,462.8 601.2,459.0"/>
<polygon fill="#AFC950" points="565.0,494.0 575.0,491.5 577.5,499.0 567.5,500.2"/>
<polygon fill="#006400" points="635.0,456.5 645.0,456.5 647.5,464.0 637.5,465.2"/>
<polygon fill="#0000FF" points="580.0,456.5 587.5,451.5 588.8,454.0 582.5,460.2"/>
<polygon fill="#0000FF" points="558.8,484.0 562.5,481.5 563.8,485.2 558.8,487.8"/>
<polygon fill="#008000" points="690.0,372.8 700.0,372.8 710.0,381.5 720.0,394.0 725.0,406.5 721.2,414.0 715.0,404.0 705.0,391.5 695.0,381.5"/>
<polygon fill="#008000" points="730.0,389.0 740.0,386.5 745.0,394.0 737.5,399.0 730.0,396.5"/>
<polygon fill="#008000" points="572.5,372.8 585.0,372.8 585.0,381.5 582.5,389.0 575.0,386.5"/>
<polygon fill="#008000" points="767.5,422.8 772.5,422.8 773.8,439.0 770.0,439.5"/>
<polygon fill="#008000" points="687.5,399.0 691.2,398.5 691.2,401.0 687.5,401.0"/>
<polygon fill="#FFFF00" points="625.0,372.8 642.5,372.8 645.0,384.0 642.5,391.5 635.0,389.0 627.5,381.5"/>
<polygon fill="#FFFF00" points="655.0,372.8 665.0,372.8 662.5,377.0 656.2,376.5"/>
<polygon fill="#FFFF00" points="755.0,372.8 811.2,372.8 811.2,502.8 742.5,502.8 745.0,486.5 750.0,474.0 755.0,459.0 757.5,441.5 750.0,431.5 752.5,424.0 762.5,419.0 766.2,411.5 762.5,399.0 758.8,386.5"/>
<polygon fill="#AFC950" points="760.0,399.0 767.5,404.0 775.0,414.0 780.0,424.0 775.0,429.0 767.5,424.0 762.5,414.0"/>
<polygon fill="#AFC950" points="780.0,439.0 800.0,436.5 811.2,444.0 811.2,469.0 800.0,471.5 790.0,464.0 785.0,449.0"/>
<polygon fill="#FFA500" points="785.0,372.8 811.2,372.8 811.2,396.5 800.0,394.0 790.0,386.5"/>
<polygon fill="#FFD700" points="780.0,372.8 785.0,372.8 790.0,386.5 800.0,394.0 811.2,396.5 811.2,404.0 797.5,401.5 785.0,391.5"/>
<polygon fill="#FFD700" points="760.0,469.0 772.5,464.0 780.0,474.0 775.0,491.5 762.5,494.0"/>
<polygon fill="#FFFF00" points="695.0,444.0 710.0,441.5 720.0,439.0 722.5,449.0 715.0,459.0 725.0,454.0 730.0,459.0 720.0,469.0 715.0,479.0 710.0,484.0 715.0,502.8 685.0,502.8 690.0,484.0 695.0,469.0 700.0,456.5"/>
<polygon fill="#FFFF00" points="740.0,426.5 750.0,424.0 757.5,439.0 755.0,454.0 750.0,469.0 745.0,481.5 742.5,502.8 735.0,502.8 740.0,484.0 745.0,469.0 750.0,454.0 747.5,439.0"/>
<polygon fill="#AFC950" points="710.0,446.5 717.5,446.5 716.2,454.0 710.0,456.5"/>
<polygon fill="#FFFF00" points="700.0,300.0 810.0,300.0 810.0,380.0 700.0,380.0"/>
<polygon fill="#FFD700" points="700.0,300.0 810.0,300.0 810.0,380.0 789.9,380.0 786.1,369.9 783.6,359.9 782.4,349.9 784.9,337.5 786.1,328.7 779.9,323.7 774.9,318.7 771.2,311.2 737.5,312.5 736.2,305.0 725.0,303.7 724.3,311.2 700.0,311.2"/>
<polygon fill="#FFA500" points="784.9,367.4 789.9,359.9 794.9,353.7 799.9,349.9 804.9,352.4 810.0,354.9 810.0,380.0 787.4,380.0"/>
<polygon fill="#FFA500" points="789.3,325.0 793.0,325.6 793.6,330.6 789.9,331.2"/>
<polygon fill="#FFA500" points="794.9,303.1 798.6,303.7 798.9,307.5 795.5,307.5"/>
<polygon fill="#FFA500" points="799.9,349.9 803.6,349.3 804.2,352.4 800.5,353.1"/>
<polygon fill="#AFC950" points="700.0,333.7 712.5,328.7 722.5,325.0 723.7,321.2 733.7,320.0 735.0,327.5 733.7,335.0 728.7,336.2 725.0,337.5 732.5,337.5 737.5,338.7 741.2,342.4 743.7,348.7 746.2,354.9 748.7,362.4 751.2,369.9 753.7,380.0 700.0,380.0"/>
<polygon fill="#AFC950" points="740.0,322.5 744.9,321.2 746.2,325.0 752.4,326.2 754.9,321.2 762.4,320.0 769.9,325.0 774.9,328.7 781.1,330.0 782.4,335.0 779.9,341.2 774.9,344.9 769.9,347.4 769.9,354.9 766.2,362.4 759.9,362.4 754.9,359.9 752.4,354.9 752.4,349.9 749.9,347.4 744.9,346.2 741.2,340.0 738.7,335.0 737.5,330.0"/>
<polygon fill="#FFFF00" points="712.5,340.0 717.5,339.3 717.5,343.7 713.1,343.9"/>
<polygon fill="#FFFF00" points="713.7,349.9 720.0,349.7 719.7,352.4 714.0,352.7"/>
<polygon fill="#008000" points="700.0,366.2 705.0,364.9 710.0,367.4 715.0,374.9 712.5,380.0 700.0,380.0"/>
<polygon fill="#FFFF00" points="700.0,370.0 810.0,370.0 810.0,450.0 700.0,450.0"/>
<polygon fill="#FFD700" points="779.9,370.0 810.0,370.0 810.0,398.7 799.9,398.7 792.4,395.0 784.9,390.0 781.1,382.5"/>
<polygon fill="#FFA500" points="784.9,370.0 807.4,370.0 808.6,382.5 802.4,390.0 794.9,390.0 789.9,385.0"/>
<polygon fill="#AFC950" points="700.0,370.0 754.9,370.0 752.4,375.0 757.4,377.5 762.4,376.2 763.7,382.5 758.7,386.2 759.9,392.5 763.7,397.5 762.4,402.5 758.7,406.2 761.2,412.4 767.4,417.4 771.2,422.4 769.9,432.4 772.4,439.9 773.7,450.0 700.0,450.0"/>
<polygon fill="#AFC950" points="774.9,397.5 779.9,398.7 787.4,400.0 788.6,405.0 782.4,407.5 778.7,413.7 776.2,419.9 773.7,417.4 772.4,407.5"/>
<polygon fill="#AFC950" points="789.9,444.9 799.9,442.4 810.0,441.2 810.0,450.0 789.9,450.0"/>
<polygon fill="#FFFF00" points="741.2,424.9 747.4,423.7 752.4,428.7 756.2,434.9 758.7,450.0 742.4,450.0 741.2,439.9"/>
<polygon fill="#FFFF00" points="705.0,444.9 711.2,441.2 716.2,447.4 716.2,450.0 705.0,450.0"/>
<polygon fill="#FFFF00" points="732.5,427.4 737.5,426.8 737.5,429.9 733.1,430.2"/>
<polygon fill="#008000" points="700.0,378.7 705.0,370.0 708.7,370.0 707.5,375.0 712.5,375.0 715.0,377.5 712.5,385.0 717.5,393.7 723.7,402.5 723.7,412.4 721.2,413.7 717.5,407.5 712.5,400.0 707.5,395.0 705.0,386.2 700.0,382.5"/>
<polygon fill="#008000" points="730.0,391.2 736.2,386.2 742.4,386.2 743.7,388.7 740.0,392.5 742.4,395.0 737.5,397.5 730.0,395.0"/>
<polygon fill="#008000" points="766.2,421.2 771.8,421.2 772.4,439.9 768.7,439.9 766.2,432.4"/>
<polyline class="cl" points="695.0,484.0 700.0,481.5 710.0,481.5 712.5,489.0 707.5,496.5 702.5,500.2 695.0,499.0 692.5,491.5 695.0,484.0"/>
<polyline class="bd" points="746.2,370.0 746.2,377.5 737.5,380.0 736.2,386.2 743.7,388.7 749.9,395.0 754.9,401.2 757.4,407.5 761.2,412.4 764.9,413.7 767.4,421.2 774.9,422.4 781.1,424.9 787.4,429.9 794.9,432.4 803.6,433.0 807.4,429.9 810.0,428.7"/>
<polyline class="bd" points="700.0,421.2 706.2,427.4 711.2,431.2 716.2,429.9 725.0,432.4 732.5,429.9 740.0,429.9 743.7,427.4 749.9,420.6"/>
<polyline class="bd" points="744.9,426.2 749.9,432.4 753.7,439.9 756.2,450.0"/>
<polyline class="bd" points="711.2,431.2 711.2,439.9 713.7,444.9 717.5,450.0"/>
<polyline class="bd" points="774.9,300.0 771.8,307.5 773.0,316.2 779.9,315.6 787.4,311.2 792.4,315.0 799.9,313.7 810.0,315.0"/>
<polyline class="bd" points="773.0,316.2 771.2,325.0 767.4,332.5 762.4,335.0 757.4,342.4 754.9,349.9 749.9,354.9 747.4,362.4 746.2,369.9 746.2,380.0"/>
<polyline class="bd" points="700.0,361.2 712.5,364.9 720.0,359.9 726.2,352.4 727.5,342.4 733.7,340.0 737.5,340.0 736.2,354.9 741.2,359.9 746.2,363.7"/>
<polyline class="bd" points="558.8,431.5 580.0,429.0 585.0,416.5 592.5,415.2 605.0,419.0 622.5,419.0 635.0,415.2 655.0,412.8 670.0,414.0 675.0,409.0 670.0,401.5 660.0,394.0 650.0,384.0 642.5,379.0 640.0,372.8"/>
<polyline class="bd" points="675.0,414.0 685.0,424.0 695.0,421.5 705.0,424.0 712.5,431.5 725.0,431.5 735.0,429.0 745.0,426.5 750.0,421.5"/>
<polyline class="bd" points="712.5,431.5 710.0,444.0 705.0,454.0 700.0,469.0 698.8,484.0 695.0,491.5 695.0,502.8"/>
<polyline class="bd" points="745.0,426.5 755.0,444.0 752.5,456.5 745.0,469.0 745.0,481.5 710.0,481.5"/>
<polyline class="bd" points="745.0,481.5 782.5,502.8"/>
<polyline class="bd" points="580.0,429.0 575.0,449.0 570.0,469.0 562.5,484.0 558.8,489.0"/>
</g>
<g clip-path="url(#c11)">
<rect x="810" y="374" width="181" height="128" fill="#AFC950"/>
<polygon fill="#006400" points="808.8,372.8 1061.2,372.8 1061.2,535.2 808.8,535.2"/>
<polygon fill="#008000" points="808.8,502.8 815.0,496.5 825.0,486.5 835.0,474.0 847.5,461.5 860.0,451.5 872.5,441.5 885.0,429.0 897.5,416.5 905.0,404.0 910.0,394.0 915.0,384.0 922.5,372.8 930.0,372.8 922.5,386.5 915.0,401.5 905.0,416.5 895.0,429.0 882.5,441.5 870.0,451.5 857.5,461.5 845.0,474.0 835.0,486.5 825.0,499.0 820.0,502.8"/>
<polygon fill="#AFC950" points="808.8,372.8 922.5,372.8 915.0,384.0 910.0,394.0 905.0,404.0 897.5,416.5 885.0,429.0 872.5,441.5 860.0,451.5 847.5,461.5 835.0,474.0 825.0,486.5 815.0,496.5 808.8,501.5"/>
<polygon fill="#FFFF00" points="808.8,372.8 900.0,372.8 892.5,381.5 880.0,389.0 870.0,396.5 860.0,401.5 850.0,404.0 840.0,406.5 830.0,409.0 828.8,424.0 822.5,427.8 808.8,427.8"/>
<polygon fill="#FFFF00" points="830.0,434.0 837.5,432.8 840.0,439.0 832.5,440.2"/>
<polygon fill="#FFFF00" points="840.0,431.5 847.5,429.5 850.0,437.8 841.2,441.5"/>
<polygon fill="#FFD700" points="808.8,372.8 815.0,372.8 813.8,384.0 808.8,386.5"/>
<polygon fill="#008000" points="896.2,395.2 903.8,394.0 905.0,401.5 900.0,406.5 896.2,402.8"/>
<polygon fill="#008000" points="872.5,469.0 885.0,456.5 895.0,451.5 900.0,464.0 892.5,479.0 885.0,491.5 880.0,502.8 860.0,502.8 867.5,486.5"/>
<polygon fill="#008000" points="912.5,461.5 922.5,459.0 930.0,460.2 935.0,469.0 940.0,479.0 945.0,489.0 950.0,502.8 920.0,502.8 922.5,489.0 917.5,474.0"/>
<polygon fill="#008000" points="955.0,446.5 962.5,444.0 965.0,454.0 958.8,456.5"/>
<polygon fill="#006400" points="880.0,481.5 887.5,479.0 890.0,489.0 883.8,491.5"/>
<polyline class="cl" points="922.5,372.8 915.0,384.0 910.0,394.0 905.0,404.0 897.5,416.5 885.0,429.0 872.5,441.5 860.0,451.5 847.5,461.5 835.0,474.0 825.0,486.5 815.0,496.5 808.8,502.8"/>
<polyline class="bd" points="808.8,426.5 817.5,425.2 827.5,427.8 840.0,424.0 850.0,419.0 862.5,416.5 875.0,404.0 885.0,394.0 895.0,385.2 902.5,372.8"/>
<polyline class="bd" points="855.0,372.8 872.5,381.5 885.0,384.0 896.2,384.0"/>
<polyline class="bd" points="827.5,427.8 821.2,439.0 821.2,456.5 820.0,474.0 825.0,486.5"/>
</g>
<path d="M82.5 55V502 M124.5 55V502 M167.5 55V502 M210.5 55V502 M253.5 55V502 M296.5 55V502 M339.5 55V502 M382.5 55V502 M424.5 55V502 M467.5 55V502 M510.5 55V502 M553.5 55V502 M596.5 55V502 M639.5 55V502 M682.5 55V502 M724.5 55V502 M767.5 55V502 M810.5 55V502 M853.5 55V502 M896.5 55V502 M939.5 55V502 M982.5 55V502 M61 492.5H991 M61 470.5H991 M61 449.5H991 M61 427.5H991 M61 406.5H991 M61 385.5H991 M61 363.5H991 M61 342.5H991 M61 320.5H991 M61 299.5H991 M61 277.5H991 M61 256.5H991 M61 235.5H991 M61 213.5H991 M61 192.5H991 M61 170.5H991 M61 149.5H991 M61 127.5H991 M61 106.5H991 M61 84.5H991 M61 63.5H991" stroke="#8c8c8c" stroke-width="1" stroke-dasharray="2.6 1.3" fill="none" opacity="0.55" shape-rendering="crispEdges"/>
<rect x="60.5" y="54.5" width="930" height="447" fill="none" stroke="#999" stroke-width="1.2"/>
<rect x="153.50" y="570.5" width="68.03" height="20.5" fill="#800000"/>
<rect x="221.23" y="570.5" width="68.03" height="20.5" fill="#FF0000"/>
<rect x="288.96" y="570.5" width="68.03" height="20.5" fill="#FFA500"/>
<rect x="356.69" y="570.5" width="68.03" height="20.5" fill="#FFD700"/>
<rect x="424.42" y="570.5" width="68.03" height="20.5" fill="#FFFF00"/>
<rect x="492.15" y="570.5" width="68.03" height="20.5" fill="#AFC950"/>
<rect x="559.88" y="570.5" width="68.03" height="20.5" fill="#008000"/>
<rect x="627.61" y="570.5" width="68.03" height="20.5" fill="#006400"/>
<rect x="695.34" y="570.5" width="68.03" height="20.5" fill="#0000FF"/>
<rect x="763.07" y="570.5" width="68.03" height="20.5" fill="#4169E1"/>
<rect x="830.80" y="570.5" width="68.03" height="20.5" fill="#800080"/>
<rect x="153.5" y="570.5" width="745" height="20.5" fill="none" stroke="#aaa" stroke-width="1"/>
</svg>
<div class="t" style="left:105.9px;transform:scaleX(0.978);transform-origin:0 0">Valid: Sun, 05-Oct-2025</div>
<div class="t" style="left:314.8px;transform:scaleX(0.950);transform-origin:0 0">19 UTC</div>
<div class="t" style="left:386.8px;transform:scaleX(0.985);transform-origin:0 0">td2m</div>
<div class="t" style="left:442.6px;transform:scaleX(0.952);transform-origin:0 0">T:+7 hr</div>
<div class="t" style="left:513.8px;transform:scaleX(0.935);transform-origin:0 0">MOL_6KM_IFS</div>
<div class="t" style="left:658.2px;transform:scaleX(0.973);transform-origin:0 0">init: Sun, 05-Oct-2025</div>
<div class="t" style="left:852.2px;transform:scaleX(0.952);transform-origin:0 0">12 UTC</div>
<div class="la lat" style="top:52.8px">38°N</div>
<div class="la lat" style="top:74.3px">36°N</div>
<div class="la lat" style="top:95.7px">34°N</div>
<div class="la lat" style="top:117.2px">32°N</div>
<div class="la lat" style="top:138.6px">30°N</div>
<div class="la lat" style="top:160.0px">28°N</div>
<div class="la lat" style="top:181.5px">26°N</div>
<div class="la lat" style="top:202.9px">24°N</div>
<div class="la lat" style="top:224.4px">22°N</div>
<div class="la lat" style="top:245.8px">20°N</div>
<div class="la lat" style="top:267.2px">18°N</div>
<div class="la lat" style="top:288.7px">16°N</div>
<div class="la lat" style="top:310.1px">14°N</div>
<div class="la lat" style="top:331.6px">12°N</div>
<div class="la lat" style="top:353.0px">10°N</div>
<div class="la lat" style="top:374.4px">8°N</div>
<div class="la lat" style="top:395.9px">6°N</div>
<div class="la lat" style="top:417.3px">4°N</div>
<div class="la lat" style="top:438.8px">2°N</div>
<div class="la lat" style="top:460.2px">0°</div>
<div class="la lat" style="top:481.6px">2°S</div>
<div class="la lon" style="left:82.5px">28°W</div>
<div class="la lon" style="left:168.3px">20°W</div>
<div class="la lon" style="left:254.0px">12°W</div>
<div class="la lon" style="left:296.9px">8°W</div>
<div class="la lon" style="left:339.8px">4°W</div>
<div class="la lon" style="left:382.7px">0°</div>
<div class="la lon" style="left:425.5px">4°E</div>
<div class="la lon" style="left:468.4px">8°E</div>
<div class="la lon" style="left:511.3px">12°E</div>
<div class="la lon" style="left:554.2px">16°E</div>
<div class="la lon" style="left:597.1px">20°E</div>
<div class="la lon" style="left:639.9px">24°E</div>
<div class="la lon" style="left:682.8px">28°E</div>
<div class="la lon" style="left:725.7px">32°E</div>
<div class="la lon" style="left:768.6px">36°E</div>
<div class="la lon" style="left:811.5px">40°E</div>
<div class="la lon" style="left:854.3px">44°E</div>
<div class="la lon" style="left:897.2px">48°E</div>
<div class="la lon" style="left:940.1px">52°E</div>
<div class="la lon" style="left:983.0px">56°E</div>
<div class="cb" style="left:154.0px">-10</div>
<div class="cb" style="left:221.7px">-5</div>
<div class="cb" style="left:289.5px">0</div>
<div class="cb" style="left:357.2px">5</div>
<div class="cb" style="left:424.9px">10</div>
<div class="cb" style="left:492.7px">15</div>
<div class="cb" style="left:560.4px">20</div>
<div class="cb" style="left:628.1px">22</div>
<div class="cb" style="left:695.8px">24</div>
<div class="cb" style="left:763.6px">26</div>
<div class="cb" style="left:831.3px">28</div>
<div class="cb" style="left:899.0px">30</div>
<div class="cb" style="left:525.2px;top:612.5px;transform:translateX(-50%) scaleX(0.86)">Température du point de rosée (°C)</div>
</body></html>
